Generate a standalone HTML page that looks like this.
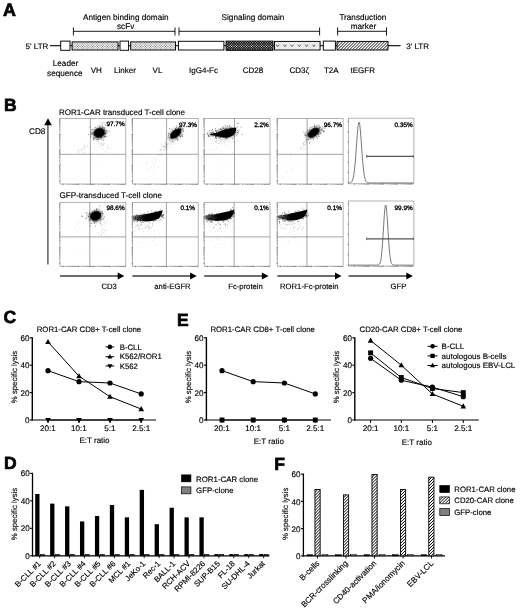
<!DOCTYPE html>
<html><head><meta charset="utf-8"><title>Figure</title>
<style>html,body{margin:0;padding:0;background:#fff}body{width:520px;height:612px;overflow:hidden}svg{display:block}</style>
</head><body>
<svg width="520" height="612" viewBox="0 0 520 612" font-family="'Liberation Sans', Arial, Helvetica, sans-serif" fill="#000">
<style>text{stroke:#000;stroke-width:0.15px;paint-order:stroke;text-rendering:geometricPrecision}</style>
<defs>
<linearGradient id="smg" x1="0" y1="0" x2="1" y2="0"><stop offset="0" stop-color="#000" stop-opacity="0.45"/><stop offset="0.3" stop-color="#000" stop-opacity="0.8"/><stop offset="0.45" stop-color="#000" stop-opacity="1"/><stop offset="1" stop-color="#000" stop-opacity="1"/></linearGradient>
<filter id="blur1" x="-30%" y="-30%" width="160%" height="160%"><feGaussianBlur stdDeviation="0.7"/></filter>
<filter id="blur2" x="-40%" y="-40%" width="180%" height="180%"><feGaussianBlur stdDeviation="1.4"/></filter>
</defs>
<rect width="520" height="612" fill="#fff"/>
<text x="3.0" y="15.7" font-size="17.9" font-weight="bold" style="stroke-width:0.7px">A</text>
<text x="4.1" y="111.3" font-size="17.5" font-weight="bold" style="stroke-width:0.7px">B</text>
<text x="3.6" y="322.9" font-size="17.5" font-weight="bold" style="stroke-width:0.7px">C</text>
<text x="4.0" y="468.9" font-size="17.5" font-weight="bold" style="stroke-width:0.7px">D</text>
<text x="177.0" y="326.0" font-size="17.5" font-weight="bold" style="stroke-width:0.7px">E</text>
<text x="274.3" y="470.3" font-size="17.5" font-weight="bold" style="stroke-width:0.7px">F</text>
<line x1="50" y1="45.7" x2="61" y2="45.7" stroke="#000" stroke-width="1.1"/>
<line x1="61" y1="45.7" x2="389" y2="45.7" stroke="#000" stroke-width="1.0"/>
<line x1="388" y1="45.7" x2="400.6" y2="45.7" stroke="#000" stroke-width="1.1"/>
<rect x="60.7" y="41.1" width="9.299999999999997" height="9.199999999999996" fill="#fff" stroke="#000" stroke-width="0.95"/>
<clipPath id="c1"><rect x="72.1" y="41.9" width="45.900000000000006" height="8.100000000000001"/></clipPath>
<rect x="72.1" y="41.9" width="45.900000000000006" height="8.100000000000001" fill="#f8f8f8"/>
<path d="M72.50 41.50h0.01M75.00 41.50h0.01M77.50 41.50h0.01M80.00 41.50h0.01M82.50 41.50h0.01M85.00 41.50h0.01M87.50 41.50h0.01M90.00 41.50h0.01M92.50 41.50h0.01M95.00 41.50h0.01M97.50 41.50h0.01M100.00 41.50h0.01M102.50 41.50h0.01M105.00 41.50h0.01M107.50 41.50h0.01M110.00 41.50h0.01M112.50 41.50h0.01M115.00 41.50h0.01M117.50 41.50h0.01M73.75 42.75h0.01M76.25 42.75h0.01M78.75 42.75h0.01M81.25 42.75h0.01M83.75 42.75h0.01M86.25 42.75h0.01M88.75 42.75h0.01M91.25 42.75h0.01M93.75 42.75h0.01M96.25 42.75h0.01M98.75 42.75h0.01M101.25 42.75h0.01M103.75 42.75h0.01M106.25 42.75h0.01M108.75 42.75h0.01M111.25 42.75h0.01M113.75 42.75h0.01M116.25 42.75h0.01M72.50 44.00h0.01M75.00 44.00h0.01M77.50 44.00h0.01M80.00 44.00h0.01M82.50 44.00h0.01M85.00 44.00h0.01M87.50 44.00h0.01M90.00 44.00h0.01M92.50 44.00h0.01M95.00 44.00h0.01M97.50 44.00h0.01M100.00 44.00h0.01M102.50 44.00h0.01M105.00 44.00h0.01M107.50 44.00h0.01M110.00 44.00h0.01M112.50 44.00h0.01M115.00 44.00h0.01M117.50 44.00h0.01M73.75 45.25h0.01M76.25 45.25h0.01M78.75 45.25h0.01M81.25 45.25h0.01M83.75 45.25h0.01M86.25 45.25h0.01M88.75 45.25h0.01M91.25 45.25h0.01M93.75 45.25h0.01M96.25 45.25h0.01M98.75 45.25h0.01M101.25 45.25h0.01M103.75 45.25h0.01M106.25 45.25h0.01M108.75 45.25h0.01M111.25 45.25h0.01M113.75 45.25h0.01M116.25 45.25h0.01M72.50 46.50h0.01M75.00 46.50h0.01M77.50 46.50h0.01M80.00 46.50h0.01M82.50 46.50h0.01M85.00 46.50h0.01M87.50 46.50h0.01M90.00 46.50h0.01M92.50 46.50h0.01M95.00 46.50h0.01M97.50 46.50h0.01M100.00 46.50h0.01M102.50 46.50h0.01M105.00 46.50h0.01M107.50 46.50h0.01M110.00 46.50h0.01M112.50 46.50h0.01M115.00 46.50h0.01M117.50 46.50h0.01M73.75 47.75h0.01M76.25 47.75h0.01M78.75 47.75h0.01M81.25 47.75h0.01M83.75 47.75h0.01M86.25 47.75h0.01M88.75 47.75h0.01M91.25 47.75h0.01M93.75 47.75h0.01M96.25 47.75h0.01M98.75 47.75h0.01M101.25 47.75h0.01M103.75 47.75h0.01M106.25 47.75h0.01M108.75 47.75h0.01M111.25 47.75h0.01M113.75 47.75h0.01M116.25 47.75h0.01M72.50 49.00h0.01M75.00 49.00h0.01M77.50 49.00h0.01M80.00 49.00h0.01M82.50 49.00h0.01M85.00 49.00h0.01M87.50 49.00h0.01M90.00 49.00h0.01M92.50 49.00h0.01M95.00 49.00h0.01M97.50 49.00h0.01M100.00 49.00h0.01M102.50 49.00h0.01M105.00 49.00h0.01M107.50 49.00h0.01M110.00 49.00h0.01M112.50 49.00h0.01M115.00 49.00h0.01M117.50 49.00h0.01M73.75 50.25h0.01M76.25 50.25h0.01M78.75 50.25h0.01M81.25 50.25h0.01M83.75 50.25h0.01M86.25 50.25h0.01M88.75 50.25h0.01M91.25 50.25h0.01M93.75 50.25h0.01M96.25 50.25h0.01M98.75 50.25h0.01M101.25 50.25h0.01M103.75 50.25h0.01M106.25 50.25h0.01M108.75 50.25h0.01M111.25 50.25h0.01M113.75 50.25h0.01M116.25 50.25h0.01" stroke="#4a4a4a" stroke-width="0.92" stroke-linecap="round" fill="none" clip-path="url(#c1)"/>
<rect x="72.1" y="41.9" width="45.900000000000006" height="8.100000000000001" fill="none" stroke="#000" stroke-width="0.95"/>
<rect x="120" y="41.1" width="8.599999999999994" height="9.199999999999996" fill="#fff" stroke="#000" stroke-width="0.95"/>
<clipPath id="c2"><rect x="130.7" y="41.9" width="44.80000000000001" height="8.100000000000001"/></clipPath>
<rect x="130.7" y="41.9" width="44.80000000000001" height="8.100000000000001" fill="#f8f8f8"/>
<path d="M130.50 41.50h0.01M133.00 41.50h0.01M135.50 41.50h0.01M138.00 41.50h0.01M140.50 41.50h0.01M143.00 41.50h0.01M145.50 41.50h0.01M148.00 41.50h0.01M150.50 41.50h0.01M153.00 41.50h0.01M155.50 41.50h0.01M158.00 41.50h0.01M160.50 41.50h0.01M163.00 41.50h0.01M165.50 41.50h0.01M168.00 41.50h0.01M170.50 41.50h0.01M173.00 41.50h0.01M175.50 41.50h0.01M131.75 42.75h0.01M134.25 42.75h0.01M136.75 42.75h0.01M139.25 42.75h0.01M141.75 42.75h0.01M144.25 42.75h0.01M146.75 42.75h0.01M149.25 42.75h0.01M151.75 42.75h0.01M154.25 42.75h0.01M156.75 42.75h0.01M159.25 42.75h0.01M161.75 42.75h0.01M164.25 42.75h0.01M166.75 42.75h0.01M169.25 42.75h0.01M171.75 42.75h0.01M174.25 42.75h0.01M130.50 44.00h0.01M133.00 44.00h0.01M135.50 44.00h0.01M138.00 44.00h0.01M140.50 44.00h0.01M143.00 44.00h0.01M145.50 44.00h0.01M148.00 44.00h0.01M150.50 44.00h0.01M153.00 44.00h0.01M155.50 44.00h0.01M158.00 44.00h0.01M160.50 44.00h0.01M163.00 44.00h0.01M165.50 44.00h0.01M168.00 44.00h0.01M170.50 44.00h0.01M173.00 44.00h0.01M175.50 44.00h0.01M131.75 45.25h0.01M134.25 45.25h0.01M136.75 45.25h0.01M139.25 45.25h0.01M141.75 45.25h0.01M144.25 45.25h0.01M146.75 45.25h0.01M149.25 45.25h0.01M151.75 45.25h0.01M154.25 45.25h0.01M156.75 45.25h0.01M159.25 45.25h0.01M161.75 45.25h0.01M164.25 45.25h0.01M166.75 45.25h0.01M169.25 45.25h0.01M171.75 45.25h0.01M174.25 45.25h0.01M130.50 46.50h0.01M133.00 46.50h0.01M135.50 46.50h0.01M138.00 46.50h0.01M140.50 46.50h0.01M143.00 46.50h0.01M145.50 46.50h0.01M148.00 46.50h0.01M150.50 46.50h0.01M153.00 46.50h0.01M155.50 46.50h0.01M158.00 46.50h0.01M160.50 46.50h0.01M163.00 46.50h0.01M165.50 46.50h0.01M168.00 46.50h0.01M170.50 46.50h0.01M173.00 46.50h0.01M175.50 46.50h0.01M131.75 47.75h0.01M134.25 47.75h0.01M136.75 47.75h0.01M139.25 47.75h0.01M141.75 47.75h0.01M144.25 47.75h0.01M146.75 47.75h0.01M149.25 47.75h0.01M151.75 47.75h0.01M154.25 47.75h0.01M156.75 47.75h0.01M159.25 47.75h0.01M161.75 47.75h0.01M164.25 47.75h0.01M166.75 47.75h0.01M169.25 47.75h0.01M171.75 47.75h0.01M174.25 47.75h0.01M130.50 49.00h0.01M133.00 49.00h0.01M135.50 49.00h0.01M138.00 49.00h0.01M140.50 49.00h0.01M143.00 49.00h0.01M145.50 49.00h0.01M148.00 49.00h0.01M150.50 49.00h0.01M153.00 49.00h0.01M155.50 49.00h0.01M158.00 49.00h0.01M160.50 49.00h0.01M163.00 49.00h0.01M165.50 49.00h0.01M168.00 49.00h0.01M170.50 49.00h0.01M173.00 49.00h0.01M175.50 49.00h0.01M131.75 50.25h0.01M134.25 50.25h0.01M136.75 50.25h0.01M139.25 50.25h0.01M141.75 50.25h0.01M144.25 50.25h0.01M146.75 50.25h0.01M149.25 50.25h0.01M151.75 50.25h0.01M154.25 50.25h0.01M156.75 50.25h0.01M159.25 50.25h0.01M161.75 50.25h0.01M164.25 50.25h0.01M166.75 50.25h0.01M169.25 50.25h0.01M171.75 50.25h0.01M174.25 50.25h0.01" stroke="#4a4a4a" stroke-width="0.92" stroke-linecap="round" fill="none" clip-path="url(#c2)"/>
<rect x="130.7" y="41.9" width="44.80000000000001" height="8.100000000000001" fill="none" stroke="#000" stroke-width="0.95"/>
<rect x="178.4" y="41.3" width="45.5" height="8.700000000000003" fill="#fff" stroke="#000" stroke-width="0.95"/>
<clipPath id="c3"><rect x="226.1" y="41.1" width="46.900000000000006" height="9.199999999999996"/></clipPath>
<rect x="226.1" y="41.1" width="46.900000000000006" height="9.199999999999996" fill="#000"/>
<path d="M226.50 41.50h0.01M229.00 41.50h0.01M231.50 41.50h0.01M234.00 41.50h0.01M236.50 41.50h0.01M239.00 41.50h0.01M241.50 41.50h0.01M244.00 41.50h0.01M246.50 41.50h0.01M249.00 41.50h0.01M251.50 41.50h0.01M254.00 41.50h0.01M256.50 41.50h0.01M259.00 41.50h0.01M261.50 41.50h0.01M264.00 41.50h0.01M266.50 41.50h0.01M269.00 41.50h0.01M271.50 41.50h0.01M227.75 42.75h0.01M230.25 42.75h0.01M232.75 42.75h0.01M235.25 42.75h0.01M237.75 42.75h0.01M240.25 42.75h0.01M242.75 42.75h0.01M245.25 42.75h0.01M247.75 42.75h0.01M250.25 42.75h0.01M252.75 42.75h0.01M255.25 42.75h0.01M257.75 42.75h0.01M260.25 42.75h0.01M262.75 42.75h0.01M265.25 42.75h0.01M267.75 42.75h0.01M270.25 42.75h0.01M272.75 42.75h0.01M226.50 44.00h0.01M229.00 44.00h0.01M231.50 44.00h0.01M234.00 44.00h0.01M236.50 44.00h0.01M239.00 44.00h0.01M241.50 44.00h0.01M244.00 44.00h0.01M246.50 44.00h0.01M249.00 44.00h0.01M251.50 44.00h0.01M254.00 44.00h0.01M256.50 44.00h0.01M259.00 44.00h0.01M261.50 44.00h0.01M264.00 44.00h0.01M266.50 44.00h0.01M269.00 44.00h0.01M271.50 44.00h0.01M227.75 45.25h0.01M230.25 45.25h0.01M232.75 45.25h0.01M235.25 45.25h0.01M237.75 45.25h0.01M240.25 45.25h0.01M242.75 45.25h0.01M245.25 45.25h0.01M247.75 45.25h0.01M250.25 45.25h0.01M252.75 45.25h0.01M255.25 45.25h0.01M257.75 45.25h0.01M260.25 45.25h0.01M262.75 45.25h0.01M265.25 45.25h0.01M267.75 45.25h0.01M270.25 45.25h0.01M272.75 45.25h0.01M226.50 46.50h0.01M229.00 46.50h0.01M231.50 46.50h0.01M234.00 46.50h0.01M236.50 46.50h0.01M239.00 46.50h0.01M241.50 46.50h0.01M244.00 46.50h0.01M246.50 46.50h0.01M249.00 46.50h0.01M251.50 46.50h0.01M254.00 46.50h0.01M256.50 46.50h0.01M259.00 46.50h0.01M261.50 46.50h0.01M264.00 46.50h0.01M266.50 46.50h0.01M269.00 46.50h0.01M271.50 46.50h0.01M227.75 47.75h0.01M230.25 47.75h0.01M232.75 47.75h0.01M235.25 47.75h0.01M237.75 47.75h0.01M240.25 47.75h0.01M242.75 47.75h0.01M245.25 47.75h0.01M247.75 47.75h0.01M250.25 47.75h0.01M252.75 47.75h0.01M255.25 47.75h0.01M257.75 47.75h0.01M260.25 47.75h0.01M262.75 47.75h0.01M265.25 47.75h0.01M267.75 47.75h0.01M270.25 47.75h0.01M272.75 47.75h0.01M226.50 49.00h0.01M229.00 49.00h0.01M231.50 49.00h0.01M234.00 49.00h0.01M236.50 49.00h0.01M239.00 49.00h0.01M241.50 49.00h0.01M244.00 49.00h0.01M246.50 49.00h0.01M249.00 49.00h0.01M251.50 49.00h0.01M254.00 49.00h0.01M256.50 49.00h0.01M259.00 49.00h0.01M261.50 49.00h0.01M264.00 49.00h0.01M266.50 49.00h0.01M269.00 49.00h0.01M271.50 49.00h0.01M227.75 50.25h0.01M230.25 50.25h0.01M232.75 50.25h0.01M235.25 50.25h0.01M237.75 50.25h0.01M240.25 50.25h0.01M242.75 50.25h0.01M245.25 50.25h0.01M247.75 50.25h0.01M250.25 50.25h0.01M252.75 50.25h0.01M255.25 50.25h0.01M257.75 50.25h0.01M260.25 50.25h0.01M262.75 50.25h0.01M265.25 50.25h0.01M267.75 50.25h0.01M270.25 50.25h0.01M272.75 50.25h0.01" stroke="#fff" stroke-width="1.24" stroke-linecap="round" fill="none" clip-path="url(#c3)"/>
<rect x="226.1" y="41.1" width="46.900000000000006" height="9.199999999999996" fill="none" stroke="#000" stroke-width="0.95"/>
<clipPath id="c4"><rect x="274.5" y="41.4" width="45.60000000000002" height="8.600000000000001"/></clipPath>
<rect x="274.5" y="41.4" width="45.60000000000002" height="8.600000000000001" fill="#fbfbfb"/>
<path d="M274.50 41.50h0.01M277.00 41.50h0.01M279.50 41.50h0.01M282.00 41.50h0.01M284.50 41.50h0.01M287.00 41.50h0.01M289.50 41.50h0.01M292.00 41.50h0.01M294.50 41.50h0.01M297.00 41.50h0.01M299.50 41.50h0.01M302.00 41.50h0.01M304.50 41.50h0.01M307.00 41.50h0.01M309.50 41.50h0.01M312.00 41.50h0.01M314.50 41.50h0.01M317.00 41.50h0.01M319.50 41.50h0.01M275.75 42.75h0.01M278.25 42.75h0.01M280.75 42.75h0.01M283.25 42.75h0.01M285.75 42.75h0.01M288.25 42.75h0.01M290.75 42.75h0.01M293.25 42.75h0.01M295.75 42.75h0.01M298.25 42.75h0.01M300.75 42.75h0.01M303.25 42.75h0.01M305.75 42.75h0.01M308.25 42.75h0.01M310.75 42.75h0.01M313.25 42.75h0.01M315.75 42.75h0.01M318.25 42.75h0.01M274.50 44.00h0.01M277.00 44.00h0.01M279.50 44.00h0.01M282.00 44.00h0.01M284.50 44.00h0.01M287.00 44.00h0.01M289.50 44.00h0.01M292.00 44.00h0.01M294.50 44.00h0.01M297.00 44.00h0.01M299.50 44.00h0.01M302.00 44.00h0.01M304.50 44.00h0.01M307.00 44.00h0.01M309.50 44.00h0.01M312.00 44.00h0.01M314.50 44.00h0.01M317.00 44.00h0.01M319.50 44.00h0.01M275.75 45.25h0.01M278.25 45.25h0.01M280.75 45.25h0.01M283.25 45.25h0.01M285.75 45.25h0.01M288.25 45.25h0.01M290.75 45.25h0.01M293.25 45.25h0.01M295.75 45.25h0.01M298.25 45.25h0.01M300.75 45.25h0.01M303.25 45.25h0.01M305.75 45.25h0.01M308.25 45.25h0.01M310.75 45.25h0.01M313.25 45.25h0.01M315.75 45.25h0.01M318.25 45.25h0.01M274.50 46.50h0.01M277.00 46.50h0.01M279.50 46.50h0.01M282.00 46.50h0.01M284.50 46.50h0.01M287.00 46.50h0.01M289.50 46.50h0.01M292.00 46.50h0.01M294.50 46.50h0.01M297.00 46.50h0.01M299.50 46.50h0.01M302.00 46.50h0.01M304.50 46.50h0.01M307.00 46.50h0.01M309.50 46.50h0.01M312.00 46.50h0.01M314.50 46.50h0.01M317.00 46.50h0.01M319.50 46.50h0.01M275.75 47.75h0.01M278.25 47.75h0.01M280.75 47.75h0.01M283.25 47.75h0.01M285.75 47.75h0.01M288.25 47.75h0.01M290.75 47.75h0.01M293.25 47.75h0.01M295.75 47.75h0.01M298.25 47.75h0.01M300.75 47.75h0.01M303.25 47.75h0.01M305.75 47.75h0.01M308.25 47.75h0.01M310.75 47.75h0.01M313.25 47.75h0.01M315.75 47.75h0.01M318.25 47.75h0.01M274.50 49.00h0.01M277.00 49.00h0.01M279.50 49.00h0.01M282.00 49.00h0.01M284.50 49.00h0.01M287.00 49.00h0.01M289.50 49.00h0.01M292.00 49.00h0.01M294.50 49.00h0.01M297.00 49.00h0.01M299.50 49.00h0.01M302.00 49.00h0.01M304.50 49.00h0.01M307.00 49.00h0.01M309.50 49.00h0.01M312.00 49.00h0.01M314.50 49.00h0.01M317.00 49.00h0.01M319.50 49.00h0.01M275.75 50.25h0.01M278.25 50.25h0.01M280.75 50.25h0.01M283.25 50.25h0.01M285.75 50.25h0.01M288.25 50.25h0.01M290.75 50.25h0.01M293.25 50.25h0.01M295.75 50.25h0.01M298.25 50.25h0.01M300.75 50.25h0.01M303.25 50.25h0.01M305.75 50.25h0.01M308.25 50.25h0.01M310.75 50.25h0.01M313.25 50.25h0.01M315.75 50.25h0.01M318.25 50.25h0.01" stroke="#aaa" stroke-width="0.72" stroke-linecap="round" fill="none" clip-path="url(#c4)"/>
<rect x="274.5" y="41.4" width="45.60000000000002" height="8.600000000000001" fill="none" stroke="#000" stroke-width="0.95"/>
<rect x="323.3" y="41.1" width="12.099999999999966" height="9.0" fill="#fff" stroke="#000" stroke-width="0.95"/>
<clipPath id="c5"><rect x="337.0" y="41.4" width="51.0" height="8.600000000000001"/></clipPath>
<rect x="337.0" y="41.4" width="51.0" height="8.600000000000001" fill="#fff"/>
<path d="M325.40 50.00L334.00 41.40M328.40 50.00L337.00 41.40M331.40 50.00L340.00 41.40M334.40 50.00L343.00 41.40M337.40 50.00L346.00 41.40M340.40 50.00L349.00 41.40M343.40 50.00L352.00 41.40M346.40 50.00L355.00 41.40M349.40 50.00L358.00 41.40M352.40 50.00L361.00 41.40M355.40 50.00L364.00 41.40M358.40 50.00L367.00 41.40M361.40 50.00L370.00 41.40M364.40 50.00L373.00 41.40M367.40 50.00L376.00 41.40M370.40 50.00L379.00 41.40M373.40 50.00L382.00 41.40M376.40 50.00L385.00 41.40M379.40 50.00L388.00 41.40M382.40 50.00L391.00 41.40M385.40 50.00L394.00 41.40M388.40 50.00L397.00 41.40M391.40 50.00L400.00 41.40M394.40 50.00L403.00 41.40" stroke="#111" stroke-width="0.95" fill="none" clip-path="url(#c5)"/>
<rect x="337.0" y="41.4" width="51.0" height="8.600000000000001" fill="none" stroke="#000" stroke-width="0.95"/>
<path d="M276.10 44.6 l1.5 2.0 l1.5 -2.0M283.35 44.6 l1.5 2.0 l1.5 -2.0M290.60 44.6 l1.5 2.0 l1.5 -2.0M297.85 44.6 l1.5 2.0 l1.5 -2.0M305.10 44.6 l1.5 2.0 l1.5 -2.0M312.35 44.6 l1.5 2.0 l1.5 -2.0" fill="none" stroke="#333" stroke-width="0.75"/>
<text x="25.6" y="48.5" font-size="8.0">5' LTR</text>
<text x="406.2" y="48.5" font-size="8.0">3' LTR</text>
<line x1="73.4" y1="31.3" x2="175" y2="31.3" stroke="#000" stroke-width="0.9"/>
<line x1="73.4" y1="27.400000000000002" x2="73.4" y2="35.5" stroke="#000" stroke-width="0.9"/>
<line x1="175" y1="27.400000000000002" x2="175" y2="35.5" stroke="#000" stroke-width="0.9"/>
<line x1="179" y1="31.3" x2="319.6" y2="31.3" stroke="#000" stroke-width="0.9"/>
<line x1="179" y1="27.400000000000002" x2="179" y2="35.5" stroke="#000" stroke-width="0.9"/>
<line x1="319.6" y1="27.400000000000002" x2="319.6" y2="35.5" stroke="#000" stroke-width="0.9"/>
<line x1="337.6" y1="31.3" x2="386.5" y2="31.3" stroke="#000" stroke-width="0.9"/>
<line x1="337.6" y1="27.400000000000002" x2="337.6" y2="35.5" stroke="#000" stroke-width="0.9"/>
<line x1="386.5" y1="27.400000000000002" x2="386.5" y2="35.5" stroke="#000" stroke-width="0.9"/>
<text x="125.8" y="20" font-size="8.2" text-anchor="middle">Antigen binding domain</text>
<text x="125.6" y="28.8" font-size="8.2" text-anchor="middle">scFv</text>
<text x="253" y="20" font-size="8.2" text-anchor="middle">Signaling domain</text>
<text x="362.9" y="20" font-size="8.2" text-anchor="middle">Transduction</text>
<text x="363.5" y="29" font-size="8.2" text-anchor="middle">marker</text>
<text x="65.5" y="65.5" font-size="8.2" text-anchor="middle">Leader</text>
<text x="64.8" y="75.5" font-size="8.2" text-anchor="middle">sequence</text>
<text x="96.2" y="72.6" font-size="8.0" text-anchor="middle">VH</text>
<text x="125" y="72.6" font-size="8.0" text-anchor="middle">Linker</text>
<text x="157.5" y="72.6" font-size="8.0" text-anchor="middle">VL</text>
<text x="203.5" y="72.6" font-size="8.0" text-anchor="middle">IgG4-Fc</text>
<text x="253" y="72.6" font-size="8.0" text-anchor="middle">CD28</text>
<text x="299.3" y="72.6" font-size="8.0" text-anchor="middle">CD3ζ</text>
<text x="331.3" y="72.6" font-size="8.0" text-anchor="middle">T2A</text>
<text x="362.8" y="72.6" font-size="8.0" text-anchor="middle">tEGFR</text>
<text x="58.9" y="114.8" font-size="8.0">ROR1-CAR transduced T-cell clone</text>
<text x="59.5" y="198.0" font-size="8.12">GFP-transduced T-cell clone</text>
<text x="29" y="133.8" font-size="8.2">CD8</text>
<line x1="47.9" y1="124" x2="47.9" y2="264.6" stroke="#606060" stroke-width="1.5"/>
<path d="M48 118.3 L44.2 125.2 L51.8 125.2 Z"/>
<line x1="60" y1="276.1" x2="118.8" y2="276.1" stroke="#3c3c3c" stroke-width="1.5"/>
<path d="M124.3 276.1 L117.7 272.6 L117.7 279.6 Z"/>
<line x1="132.4" y1="276.1" x2="191.2" y2="276.1" stroke="#3c3c3c" stroke-width="1.5"/>
<path d="M196.7 276.1 L190.1 272.6 L190.1 279.6 Z"/>
<line x1="204.2" y1="276.1" x2="263.0" y2="276.1" stroke="#3c3c3c" stroke-width="1.5"/>
<path d="M268.5 276.1 L261.9 272.6 L261.9 279.6 Z"/>
<line x1="277.3" y1="276.1" x2="336.1" y2="276.1" stroke="#3c3c3c" stroke-width="1.5"/>
<path d="M341.6 276.1 L335.0 272.6 L335.0 279.6 Z"/>
<line x1="348.6" y1="276.1" x2="407.40000000000003" y2="276.1" stroke="#3c3c3c" stroke-width="1.5"/>
<path d="M412.90000000000003 276.1 L406.3 272.6 L406.3 279.6 Z"/>
<text x="109.1" y="289.2" font-size="7.7" text-anchor="middle">CD3</text>
<text x="172.5" y="289.2" font-size="7.7" text-anchor="middle">anti-EGFR</text>
<text x="245.5" y="289.2" font-size="7.7" text-anchor="middle">Fc-protein</text>
<text x="309.3" y="289.2" font-size="7.7" text-anchor="middle">ROR1-Fc-protein</text>
<text x="398.5" y="289.2" font-size="7.7" text-anchor="middle">GFP</text>
<rect x="60" y="118.5" width="65.8" height="65.5" fill="none" stroke="#959595" stroke-width="0.7"/>
<line x1="90.4" y1="118.5" x2="90.4" y2="184.0" stroke="#5a5a5a" stroke-width="0.55"/>
<line x1="60" y1="154.3" x2="125.8" y2="154.3" stroke="#5a5a5a" stroke-width="0.55"/>
<path d="M63.0 183.7v1.3M67.7 184.0v0.7M70.4 184.0v0.7M72.3 184.0v0.7M73.8 184.0v0.7M75.0 184.0v0.7M76.1 184.0v0.7M77.1 184.0v0.7M78.5 183.7v1.3M83.2 184.0v0.7M85.9 184.0v0.7M87.8 184.0v0.7M89.3 184.0v0.7M90.5 184.0v0.7M91.6 184.0v0.7M92.6 184.0v0.7M94.0 183.7v1.3M98.7 184.0v0.7M101.4 184.0v0.7M103.3 184.0v0.7M104.8 184.0v0.7M106.0 184.0v0.7M107.1 184.0v0.7M108.1 184.0v0.7M109.5 183.7v1.3M114.2 184.0v0.7M116.9 184.0v0.7M118.8 184.0v0.7M120.3 184.0v0.7M121.5 184.0v0.7M122.6 184.0v0.7M123.6 184.0v0.7M125.0 183.7v1.3M60.3 181.0h-1.3M60 176.3h-0.7M60 173.6h-0.7M60 171.7h-0.7M60 170.2h-0.7M60 169.0h-0.7M60 167.9h-0.7M60 166.9h-0.7M60.3 165.5h-1.3M60 160.8h-0.7M60 158.1h-0.7M60 156.2h-0.7M60 154.7h-0.7M60 153.5h-0.7M60 152.4h-0.7M60 151.4h-0.7M60.3 150.0h-1.3M60 145.3h-0.7M60 142.6h-0.7M60 140.7h-0.7M60 139.2h-0.7M60 138.0h-0.7M60 136.9h-0.7M60 135.9h-0.7M60.3 134.5h-1.3M60 129.8h-0.7M60 127.1h-0.7M60 125.2h-0.7M60 123.7h-0.7M60 122.5h-0.7M60 121.4h-0.7M60 120.4h-0.7M60.3 119.0h-1.3" stroke="#333" stroke-width="0.55" fill="none"/>
<g transform="rotate(-20 99.3 133.2)" filter="url(#blur2)" opacity="0.55"><ellipse cx="99.3" cy="133.2" rx="6.6" ry="5.6" fill="#000"/></g>
<g transform="rotate(-20 99.2 132.8)" filter="url(#blur1)" opacity="1"><ellipse cx="99.2" cy="132.8" rx="5.6" ry="4.6" fill="#000"/></g>
<path d="M98.7 135.0h0.7M98.0 132.2h0.7M95.4 133.4h0.7M103.9 133.1h0.7M103.4 132.6h0.7M100.9 133.1h0.7M93.7 137.7h0.7M101.6 134.0h0.7M91.0 129.3h0.7M95.3 132.5h0.7M100.3 132.5h0.7M100.5 130.3h0.7M100.8 133.9h0.7M98.4 139.4h0.7M102.5 136.2h0.7M96.1 131.3h0.7M97.8 133.1h0.7M101.9 133.1h0.7M96.5 130.4h0.7M98.4 137.6h0.7M96.4 134.8h0.7M99.3 127.7h0.7M100.7 137.2h0.7M91.2 134.3h0.7M98.0 130.5h0.7M101.0 132.2h0.7M94.4 137.4h0.7M102.7 135.3h0.7M105.1 132.5h0.7M98.4 128.6h0.7M100.9 130.3h0.7M96.2 129.4h0.7M95.0 132.4h0.7M102.1 124.9h0.7M93.9 135.5h0.7M105.3 133.2h0.7M89.4 127.1h0.7M99.8 130.2h0.7M95.9 137.5h0.7M103.6 132.2h0.7M100.6 134.1h0.7M105.9 133.1h0.7M101.7 134.2h0.7M94.5 139.0h0.7M103.4 133.6h0.7M91.0 133.3h0.7M100.6 126.1h0.7M99.5 136.5h0.7M95.8 139.8h0.7M101.2 131.9h0.7M101.1 134.7h0.7M100.8 136.6h0.7M96.3 132.4h0.7M103.2 131.9h0.7M96.8 137.1h0.7M104.4 129.8h0.7M93.8 134.2h0.7M98.3 132.2h0.7M103.5 128.0h0.7M102.7 127.4h0.7M96.8 136.0h0.7M104.4 134.5h0.7M100.7 133.1h0.7M100.4 134.7h0.7M98.8 134.1h0.7M101.4 132.3h0.7M102.7 133.9h0.7M107.2 131.7h0.7M97.2 132.3h0.7M100.1 136.0h0.7M98.3 134.7h0.7M103.6 122.5h0.7M95.2 135.1h0.7M101.0 133.3h0.7M98.2 135.6h0.7M99.8 131.0h0.7M108.8 131.3h0.7M97.0 133.3h0.7M98.3 133.1h0.7M88.3 134.6h0.7M101.9 128.0h0.7M99.9 136.2h0.7M104.0 136.8h0.7M92.3 133.9h0.7M98.5 135.4h0.7M100.7 123.0h0.7M101.9 127.0h0.7M100.3 127.3h0.7M101.1 136.7h0.7M98.8 133.8h0.7M102.4 132.5h0.7M100.4 138.1h0.7M102.9 130.8h0.7M108.5 126.0h0.7M102.4 131.1h0.7M100.4 135.1h0.7M100.7 134.8h0.7M91.8 129.9h0.7M100.6 129.1h0.7M93.8 129.4h0.7M104.8 133.9h0.7M103.9 128.2h0.7M98.1 129.3h0.7M103.7 137.3h0.7M97.4 139.1h0.7M102.8 131.3h0.7M93.1 139.9h0.7M98.2 131.2h0.7M101.1 133.9h0.7M103.9 127.9h0.7M105.0 136.5h0.7M104.6 130.7h0.7M97.4 137.2h0.7M99.8 133.3h0.7M104.4 130.5h0.7M90.0 134.5h0.7M92.9 137.9h0.7M99.8 130.6h0.7M100.0 135.7h0.7M100.8 137.2h0.7M100.0 136.5h0.7M106.5 136.5h0.7M97.5 136.7h0.7M90.9 131.7h0.7M92.8 138.8h0.7M94.5 134.4h0.7M98.4 133.1h0.7M97.2 134.5h0.7M106.1 131.0h0.7M102.2 135.6h0.7M97.2 129.1h0.7M98.2 137.1h0.7M92.3 133.0h0.7M103.8 134.4h0.7M100.0 135.6h0.7M98.6 129.0h0.7M92.6 132.8h0.7M102.2 130.1h0.7M95.0 131.6h0.7M93.2 134.4h0.7M95.1 135.6h0.7M90.5 136.9h0.7M94.8 127.5h0.7M101.7 131.2h0.7M89.8 132.8h0.7M99.9 131.2h0.7M102.9 134.5h0.7M102.1 133.3h0.7M105.0 133.6h0.7M98.8 125.7h0.7M103.9 136.2h0.7M97.6 131.8h0.7M104.8 125.0h0.7M103.4 140.3h0.7M96.3 136.3h0.7M106.3 130.4h0.7M102.3 135.3h0.7M95.6 133.8h0.7M101.1 135.3h0.7M98.9 132.4h0.7" stroke="#000" stroke-width="0.7" fill="none" opacity="0.8"/>
<path d="M97.4 141.2h0.6M104.1 143.5h0.6M98.0 138.8h0.6M110.3 148.7h0.6M103.2 130.0h0.6M103.2 145.4h0.6M106.9 145.1h0.6M100.8 145.6h0.6M94.2 148.2h0.6M102.1 139.5h0.6M105.6 152.0h0.6M96.1 139.7h0.6M102.0 143.9h0.6M99.6 138.1h0.6M108.4 148.2h0.6M96.8 136.3h0.6M107.0 147.9h0.6M107.4 147.1h0.6M97.9 144.3h0.6M93.4 139.3h0.6M100.8 145.6h0.6M98.5 142.4h0.6M102.6 144.9h0.6M103.2 144.0h0.6M99.9 146.9h0.6M101.2 138.9h0.6M98.8 143.0h0.6M100.6 143.8h0.6M101.0 143.9h0.6M100.5 136.7h0.6M102.5 148.3h0.6M102.5 142.1h0.6M102.6 138.2h0.6M94.4 143.3h0.6" stroke="#000" stroke-width="0.6" fill="none" opacity="0.4"/>
<path d="M78.4 151.1h0.6M74.7 145.5h0.6M78.9 152.8h0.6M78.3 146.3h0.6M78.8 150.4h0.6M82.9 147.4h0.6M86.9 146.4h0.6M81.5 149.1h0.6M87.7 146.5h0.6M83.6 144.1h0.6M81.2 149.6h0.6M81.0 150.4h0.6M84.0 148.5h0.6M82.7 152.9h0.6M85.1 145.2h0.6M83.8 152.4h0.6M80.6 150.2h0.6M84.4 146.1h0.6M77.1 150.6h0.6M83.3 149.3h0.6M83.8 146.5h0.6M84.5 147.3h0.6" stroke="#000" stroke-width="0.6" fill="none" opacity="0.3"/>
<path d="M94.1 165.4h0.6M89.6 170.5h0.6M81.5 160.0h0.6M92.0 153.3h0.6M87.6 148.9h0.6M85.2 169.5h0.6M97.7 164.6h0.6M89.7 153.7h0.6" stroke="#000" stroke-width="0.6" fill="none" opacity="0.25"/>
<text x="124.6" y="125.9" font-size="6.4" text-anchor="end" style="stroke-width:0.3px">97.7%</text>
<rect x="132.4" y="118.5" width="65.8" height="65.5" fill="none" stroke="#959595" stroke-width="0.7"/>
<line x1="166.6" y1="118.5" x2="166.6" y2="184.0" stroke="#5a5a5a" stroke-width="0.55"/>
<line x1="132.4" y1="154.3" x2="198.2" y2="154.3" stroke="#5a5a5a" stroke-width="0.55"/>
<path d="M135.4 183.7v1.3M140.1 184.0v0.7M142.8 184.0v0.7M144.7 184.0v0.7M146.2 184.0v0.7M147.4 184.0v0.7M148.5 184.0v0.7M149.5 184.0v0.7M150.9 183.7v1.3M155.6 184.0v0.7M158.3 184.0v0.7M160.2 184.0v0.7M161.7 184.0v0.7M162.9 184.0v0.7M164.0 184.0v0.7M165.0 184.0v0.7M166.4 183.7v1.3M171.1 184.0v0.7M173.8 184.0v0.7M175.7 184.0v0.7M177.2 184.0v0.7M178.4 184.0v0.7M179.5 184.0v0.7M180.5 184.0v0.7M181.9 183.7v1.3M186.6 184.0v0.7M189.3 184.0v0.7M191.2 184.0v0.7M192.7 184.0v0.7M193.9 184.0v0.7M195.0 184.0v0.7M196.0 184.0v0.7M197.4 183.7v1.3M132.70000000000002 181.0h-1.3M132.4 176.3h-0.7M132.4 173.6h-0.7M132.4 171.7h-0.7M132.4 170.2h-0.7M132.4 169.0h-0.7M132.4 167.9h-0.7M132.4 166.9h-0.7M132.70000000000002 165.5h-1.3M132.4 160.8h-0.7M132.4 158.1h-0.7M132.4 156.2h-0.7M132.4 154.7h-0.7M132.4 153.5h-0.7M132.4 152.4h-0.7M132.4 151.4h-0.7M132.70000000000002 150.0h-1.3M132.4 145.3h-0.7M132.4 142.6h-0.7M132.4 140.7h-0.7M132.4 139.2h-0.7M132.4 138.0h-0.7M132.4 136.9h-0.7M132.4 135.9h-0.7M132.70000000000002 134.5h-1.3M132.4 129.8h-0.7M132.4 127.1h-0.7M132.4 125.2h-0.7M132.4 123.7h-0.7M132.4 122.5h-0.7M132.4 121.4h-0.7M132.4 120.4h-0.7M132.70000000000002 119.0h-1.3" stroke="#333" stroke-width="0.55" fill="none"/>
<g transform="rotate(-40 175.6 133.8)" filter="url(#blur2)" opacity="0.5"><ellipse cx="175.6" cy="133.8" rx="7.6" ry="4.4" fill="#000"/></g>
<g transform="rotate(-40 175.8 133.6)" filter="url(#blur1)" opacity="1"><ellipse cx="175.8" cy="133.6" rx="6.6" ry="3.5" fill="#000"/></g>
<path d="M182.9 129.0h0.7M178.2 128.7h0.7M172.3 130.9h0.7M180.0 132.9h0.7M169.2 139.3h0.7M175.2 128.5h0.7M167.8 137.2h0.7M171.4 133.0h0.7M176.3 134.0h0.7M179.1 132.9h0.7M182.8 131.1h0.7M170.5 136.7h0.7M170.4 134.9h0.7M175.5 133.9h0.7M175.0 129.2h0.7M171.5 137.3h0.7M174.6 133.6h0.7M174.4 132.4h0.7M178.8 132.1h0.7M174.4 132.7h0.7M170.9 129.2h0.7M172.5 136.6h0.7M170.9 138.5h0.7M174.1 130.7h0.7M174.4 133.8h0.7M178.4 133.3h0.7M174.3 132.2h0.7M175.2 133.9h0.7M178.8 131.9h0.7M171.2 133.3h0.7M173.3 133.4h0.7M171.8 136.8h0.7M174.3 135.3h0.7M177.0 131.3h0.7M183.3 126.0h0.7M179.8 130.5h0.7M175.9 125.9h0.7M173.6 136.3h0.7M181.6 136.0h0.7M178.9 134.9h0.7M179.9 133.0h0.7M177.3 131.8h0.7M175.9 130.1h0.7M178.3 128.2h0.7M180.0 136.7h0.7M175.1 134.3h0.7M179.9 130.1h0.7M173.4 136.5h0.7M178.9 133.1h0.7M175.9 139.1h0.7M181.6 128.6h0.7M176.1 132.0h0.7M179.6 128.0h0.7M177.4 130.7h0.7M174.5 137.0h0.7M180.4 129.5h0.7M174.7 137.1h0.7M176.1 134.3h0.7M182.9 131.0h0.7M177.6 139.3h0.7M177.1 135.0h0.7M173.5 135.5h0.7M172.6 142.1h0.7M178.6 127.3h0.7M168.0 135.2h0.7M179.1 129.2h0.7M175.1 133.2h0.7M173.7 132.0h0.7M173.6 130.9h0.7M176.0 134.4h0.7M177.1 131.8h0.7M172.9 136.6h0.7M176.6 137.9h0.7M178.3 131.1h0.7M173.1 133.8h0.7M172.0 135.8h0.7M177.6 133.6h0.7M181.1 135.7h0.7M173.4 135.8h0.7M182.5 121.8h0.7M174.3 135.5h0.7M177.0 133.9h0.7M175.6 135.0h0.7M177.2 134.8h0.7M167.9 137.7h0.7M174.2 131.7h0.7M173.2 137.9h0.7M174.6 136.7h0.7M178.9 131.9h0.7M177.4 131.9h0.7M170.9 137.8h0.7M176.5 131.3h0.7M176.6 135.3h0.7M173.8 137.4h0.7M181.4 126.9h0.7M176.1 132.9h0.7M181.6 129.5h0.7M177.8 129.6h0.7M175.7 133.6h0.7M171.9 141.6h0.7M176.1 127.7h0.7M178.2 131.1h0.7M177.9 132.9h0.7M170.3 137.8h0.7M180.1 128.0h0.7M170.1 134.2h0.7M172.1 137.9h0.7M182.3 129.2h0.7M180.2 136.9h0.7M172.9 134.0h0.7M178.5 133.0h0.7M170.4 134.6h0.7M177.2 133.2h0.7M171.0 137.2h0.7M174.7 136.1h0.7M175.3 133.8h0.7M176.2 136.6h0.7M180.0 128.7h0.7M177.5 129.7h0.7M177.2 134.7h0.7M180.4 128.3h0.7M175.9 134.2h0.7M170.6 138.2h0.7M174.1 136.3h0.7M168.8 133.5h0.7M176.3 134.0h0.7M175.3 136.9h0.7M173.9 133.3h0.7M175.0 129.3h0.7M173.4 135.6h0.7M178.5 130.7h0.7M175.8 131.5h0.7M179.5 135.7h0.7M177.2 140.0h0.7M173.6 135.6h0.7M178.0 134.9h0.7M168.2 133.6h0.7M179.2 133.2h0.7M182.1 136.5h0.7M176.9 133.4h0.7M179.6 131.4h0.7M179.6 126.3h0.7M169.1 128.5h0.7M178.0 130.5h0.7M182.4 134.7h0.7M175.4 133.2h0.7M172.7 133.6h0.7M174.6 136.7h0.7M176.0 133.6h0.7M176.6 135.8h0.7" stroke="#000" stroke-width="0.7" fill="none" opacity="0.8"/>
<path d="M166.5 144.8h0.6M167.2 144.1h0.6M161.4 153.8h0.6M165.2 143.7h0.6M169.7 143.1h0.6M159.8 155.8h0.6M167.2 146.9h0.6M165.2 146.0h0.6M159.0 154.8h0.6M164.2 146.5h0.6M166.1 145.7h0.6M167.0 143.7h0.6M161.4 144.0h0.6M163.6 149.7h0.6M169.9 141.0h0.6M166.1 149.8h0.6M164.1 149.4h0.6M171.9 140.2h0.6M168.9 140.9h0.6M165.3 146.0h0.6M166.5 148.2h0.6M174.1 136.3h0.6M162.7 150.1h0.6M160.5 152.0h0.6M166.6 144.3h0.6M164.7 142.6h0.6M165.7 141.6h0.6M160.7 149.0h0.6M163.9 149.9h0.6M164.3 146.1h0.6M169.0 147.1h0.6M165.0 147.5h0.6M170.3 142.3h0.6M162.3 155.9h0.6M171.5 135.1h0.6M164.9 147.8h0.6M169.7 144.0h0.6M161.9 146.6h0.6M166.4 148.1h0.6M158.3 150.0h0.6M161.8 144.3h0.6M162.8 147.4h0.6M165.5 144.1h0.6M160.1 150.0h0.6M163.4 146.2h0.6M165.6 148.0h0.6M172.0 144.6h0.6M160.5 149.6h0.6M156.2 159.9h0.6M161.3 149.9h0.6M164.9 142.9h0.6M166.5 145.1h0.6M156.9 154.9h0.6M167.2 139.4h0.6M168.3 144.0h0.6" stroke="#000" stroke-width="0.6" fill="none" opacity="0.4"/>
<path d="M154.0 163.9h0.6M156.9 157.9h0.6M153.9 158.9h0.6M151.9 157.8h0.6M154.3 171.6h0.6M152.1 161.6h0.6M141.2 165.3h0.6M153.8 167.1h0.6M153.9 164.5h0.6M153.6 169.7h0.6M146.2 163.3h0.6M155.3 160.8h0.6M146.8 162.7h0.6M150.3 167.6h0.6M148.6 157.6h0.6M153.0 163.1h0.6M146.4 171.1h0.6M147.4 163.7h0.6M158.3 166.3h0.6M147.3 168.5h0.6" stroke="#000" stroke-width="0.6" fill="none" opacity="0.22"/>
<text x="197.0" y="126.8" font-size="6.4" text-anchor="end" style="stroke-width:0.3px">97.3%</text>
<rect x="204.2" y="118.5" width="65.8" height="65.5" fill="none" stroke="#959595" stroke-width="0.7"/>
<line x1="234.5" y1="118.5" x2="234.5" y2="184.0" stroke="#5a5a5a" stroke-width="0.55"/>
<line x1="204.2" y1="154.3" x2="270.0" y2="154.3" stroke="#5a5a5a" stroke-width="0.55"/>
<path d="M207.2 183.7v1.3M211.9 184.0v0.7M214.6 184.0v0.7M216.5 184.0v0.7M218.0 184.0v0.7M219.2 184.0v0.7M220.3 184.0v0.7M221.3 184.0v0.7M222.7 183.7v1.3M227.4 184.0v0.7M230.1 184.0v0.7M232.0 184.0v0.7M233.5 184.0v0.7M234.7 184.0v0.7M235.8 184.0v0.7M236.8 184.0v0.7M238.2 183.7v1.3M242.9 184.0v0.7M245.6 184.0v0.7M247.5 184.0v0.7M249.0 184.0v0.7M250.2 184.0v0.7M251.3 184.0v0.7M252.3 184.0v0.7M253.7 183.7v1.3M258.4 184.0v0.7M261.1 184.0v0.7M263.0 184.0v0.7M264.5 184.0v0.7M265.7 184.0v0.7M266.8 184.0v0.7M267.8 184.0v0.7M269.2 183.7v1.3M204.5 181.0h-1.3M204.2 176.3h-0.7M204.2 173.6h-0.7M204.2 171.7h-0.7M204.2 170.2h-0.7M204.2 169.0h-0.7M204.2 167.9h-0.7M204.2 166.9h-0.7M204.5 165.5h-1.3M204.2 160.8h-0.7M204.2 158.1h-0.7M204.2 156.2h-0.7M204.2 154.7h-0.7M204.2 153.5h-0.7M204.2 152.4h-0.7M204.2 151.4h-0.7M204.5 150.0h-1.3M204.2 145.3h-0.7M204.2 142.6h-0.7M204.2 140.7h-0.7M204.2 139.2h-0.7M204.2 138.0h-0.7M204.2 136.9h-0.7M204.2 135.9h-0.7M204.5 134.5h-1.3M204.2 129.8h-0.7M204.2 127.1h-0.7M204.2 125.2h-0.7M204.2 123.7h-0.7M204.2 122.5h-0.7M204.2 121.4h-0.7M204.2 120.4h-0.7M204.5 119.0h-1.3" stroke="#333" stroke-width="0.55" fill="none"/>
<path d="M236.2 127.6 C232 127.8 225 129.3 219.5 131.8 C215.5 133.3 211 133.6 208.5 134 C212 135 216 136 220.5 137 C226 138.4 231 137.6 234 134.6 C235.8 132.5 236.6 130 236.2 127.6 Z" fill="#000" filter="url(#blur1)"/>
<g transform="rotate(-12 227.5 132.6)" filter="url(#blur2)" opacity="0.45"><ellipse cx="227.5" cy="132.6" rx="8.5" ry="5.2" fill="#000"/></g>
<path d="M220.6 139.8h0.7M222.5 136.5h0.7M221.3 135.7h0.7M237.8 123.5h0.7M222.5 134.6h0.7M224.1 131.2h0.7M238.8 130.2h0.7M215.0 137.1h0.7M214.6 138.0h0.7M221.4 133.9h0.7M233.1 131.5h0.7M215.3 130.3h0.7M232.9 133.2h0.7M220.2 136.0h0.7M228.5 133.8h0.7M210.5 134.9h0.7M231.1 133.5h0.7M229.3 125.4h0.7M226.3 133.8h0.7M240.8 127.1h0.7M222.9 133.3h0.7M230.4 130.5h0.7M231.9 129.3h0.7M226.4 131.1h0.7M225.7 130.8h0.7M215.4 137.6h0.7M226.6 131.0h0.7M226.8 135.1h0.7M218.7 133.8h0.7M228.7 133.4h0.7M221.8 127.9h0.7M233.1 132.0h0.7M224.9 132.1h0.7M226.5 131.4h0.7M218.1 132.2h0.7M220.9 132.0h0.7M217.9 135.9h0.7M217.0 136.2h0.7M218.7 135.0h0.7M233.9 131.5h0.7M220.4 133.9h0.7M225.0 128.2h0.7M221.2 134.0h0.7M222.1 133.6h0.7M230.1 133.8h0.7M231.1 133.1h0.7M223.2 133.1h0.7M223.1 132.4h0.7M223.0 128.6h0.7M222.9 133.2h0.7M218.8 134.0h0.7M228.2 131.7h0.7M236.9 123.5h0.7M222.7 128.4h0.7M232.6 138.3h0.7M209.1 136.4h0.7M228.2 131.4h0.7M227.4 126.4h0.7M230.6 132.6h0.7M224.8 131.3h0.7M228.8 130.7h0.7M226.2 131.2h0.7M210.7 135.6h0.7M226.7 134.5h0.7M219.4 133.8h0.7M229.0 132.4h0.7M233.9 136.3h0.7M218.2 129.1h0.7M231.2 135.6h0.7M231.3 133.7h0.7M220.7 131.8h0.7M230.2 129.3h0.7M212.9 132.6h0.7M241.9 134.5h0.7M220.3 131.8h0.7M226.1 130.6h0.7M233.3 130.9h0.7M218.8 137.5h0.7M221.4 134.1h0.7M224.8 132.0h0.7M226.7 130.6h0.7M212.1 129.6h0.7M216.5 132.5h0.7M224.9 133.0h0.7M228.6 132.4h0.7M219.6 132.0h0.7M211.4 135.1h0.7M228.4 133.5h0.7M224.1 132.5h0.7M231.0 131.6h0.7M230.0 133.3h0.7M227.0 135.9h0.7M221.2 132.6h0.7M219.4 131.8h0.7M235.8 135.3h0.7M225.4 134.2h0.7M232.9 133.3h0.7M232.0 128.0h0.7M221.2 134.8h0.7M234.2 131.2h0.7M219.3 133.0h0.7M220.3 131.5h0.7M234.2 129.3h0.7M226.2 138.3h0.7M232.7 132.1h0.7M221.3 134.6h0.7M235.7 132.3h0.7M233.1 131.4h0.7M228.2 131.6h0.7M228.4 135.6h0.7M215.9 134.5h0.7M226.2 131.0h0.7M223.4 135.2h0.7M238.1 131.8h0.7M226.3 128.4h0.7M237.3 130.5h0.7M224.2 130.0h0.7M224.1 130.1h0.7M225.7 133.9h0.7M225.3 133.5h0.7M220.3 137.5h0.7M219.9 129.0h0.7M223.4 131.1h0.7M218.4 133.2h0.7M226.2 129.4h0.7M224.9 136.6h0.7M229.3 131.5h0.7M225.8 132.3h0.7M225.1 134.7h0.7M223.2 126.8h0.7M224.4 130.6h0.7M228.8 130.4h0.7M227.1 138.2h0.7M217.7 131.3h0.7M214.8 128.5h0.7M213.2 136.2h0.7M220.0 128.9h0.7M215.9 136.3h0.7M219.9 132.9h0.7M227.8 135.8h0.7M237.9 132.9h0.7M226.0 133.1h0.7M237.2 134.1h0.7M223.3 134.4h0.7M226.9 132.6h0.7M221.1 130.1h0.7M220.8 129.6h0.7M233.1 132.6h0.7M218.0 137.9h0.7M229.7 126.8h0.7M237.1 132.5h0.7M237.5 127.0h0.7M228.6 133.2h0.7M226.4 133.0h0.7M230.9 127.6h0.7M216.4 130.9h0.7M221.1 132.0h0.7M227.5 133.0h0.7M224.9 131.0h0.7M222.7 135.8h0.7M229.9 132.1h0.7M223.7 137.2h0.7M221.6 135.2h0.7M232.2 130.6h0.7M229.7 128.9h0.7M231.6 132.0h0.7M215.2 136.6h0.7M220.0 137.2h0.7M220.6 133.3h0.7M226.6 131.6h0.7M226.4 131.1h0.7M229.3 131.9h0.7M224.9 125.5h0.7M232.4 131.4h0.7M213.7 135.3h0.7M228.5 134.9h0.7M218.9 138.1h0.7M225.2 139.1h0.7M224.4 134.7h0.7M222.1 130.4h0.7M232.5 133.7h0.7M235.2 133.0h0.7M220.5 129.3h0.7M220.5 131.9h0.7M220.1 135.3h0.7M226.9 131.7h0.7M226.0 132.2h0.7M226.7 134.4h0.7M230.8 129.8h0.7M216.1 138.4h0.7M226.3 135.5h0.7M214.4 134.1h0.7M224.4 129.1h0.7M222.1 135.3h0.7M232.7 135.5h0.7M218.8 130.3h0.7M228.8 134.5h0.7M225.6 129.2h0.7M230.4 133.8h0.7M228.3 130.8h0.7" stroke="#000" stroke-width="0.7" fill="none" opacity="0.8"/>
<path d="M215.5 135.1h0.6M211.2 130.7h0.6M215.6 134.5h0.6M214.2 135.4h0.6M211.4 133.9h0.6M212.7 135.0h0.6M221.1 132.6h0.6M223.5 135.6h0.6M217.6 134.5h0.6M221.9 132.7h0.6M213.3 131.9h0.6M216.4 136.0h0.6M216.5 134.3h0.6M213.1 134.2h0.6M207.8 136.3h0.6M212.0 132.0h0.6M210.5 132.7h0.6M218.0 135.3h0.6M208.1 136.1h0.6M217.9 132.4h0.6M207.2 133.1h0.6M211.2 134.7h0.6M212.0 130.3h0.6M214.8 130.9h0.6M217.8 131.2h0.6M210.7 132.6h0.6M211.8 136.4h0.6M217.9 134.5h0.6M215.2 130.9h0.6M211.6 133.0h0.6M209.7 135.2h0.6M210.6 132.9h0.6M209.0 130.6h0.6M216.9 135.9h0.6M214.6 132.0h0.6M219.5 133.8h0.6M218.4 136.0h0.6M219.0 132.5h0.6M218.9 134.7h0.6M207.0 133.8h0.6M207.6 134.2h0.6M216.4 131.6h0.6M216.0 136.3h0.6M208.3 136.3h0.6M223.6 136.5h0.6M213.1 134.4h0.6M213.5 135.7h0.6M218.7 133.5h0.6M208.0 135.7h0.6M212.0 135.1h0.6M215.5 136.6h0.6M219.0 132.5h0.6M215.9 136.8h0.6M211.7 134.8h0.6M219.6 135.5h0.6M216.1 131.2h0.6M208.4 134.8h0.6M216.2 138.2h0.6M210.3 136.2h0.6M217.1 130.5h0.6M210.4 134.5h0.6M211.8 133.7h0.6M216.0 132.1h0.6M216.0 132.5h0.6M211.7 135.0h0.6M211.5 134.6h0.6M221.2 133.1h0.6M213.5 135.2h0.6M212.6 135.9h0.6M208.4 135.5h0.6M211.6 132.6h0.6M221.8 131.5h0.6M222.0 134.2h0.6M220.3 131.4h0.6M219.6 135.9h0.6M213.5 133.6h0.6M225.0 133.0h0.6M212.0 132.9h0.6M216.1 134.2h0.6M215.1 136.8h0.6M212.6 134.8h0.6M220.4 131.3h0.6M219.0 136.6h0.6M207.7 132.4h0.6M209.0 131.0h0.6M215.7 130.3h0.6M216.5 136.2h0.6M206.7 134.0h0.6" stroke="#000" stroke-width="0.6" fill="none" opacity="0.7"/>
<path d="M210.6 143.7h0.6M218.8 140.1h0.6M224.4 142.9h0.6M221.6 141.1h0.6M220.2 141.4h0.6M215.8 141.2h0.6M210.5 139.3h0.6M237.4 141.3h0.6M215.2 141.9h0.6M217.2 135.2h0.6M218.8 143.6h0.6M226.7 140.7h0.6M217.5 137.2h0.6M233.4 141.9h0.6M217.3 133.6h0.6M214.4 149.7h0.6M216.0 140.7h0.6M225.5 140.4h0.6M222.1 136.2h0.6M216.6 146.9h0.6M218.7 144.0h0.6M212.1 140.0h0.6M225.8 144.6h0.6M216.1 143.1h0.6M226.7 138.4h0.6M227.3 137.9h0.6M218.4 140.9h0.6M217.0 135.9h0.6M221.0 143.7h0.6M221.2 145.4h0.6M215.9 136.4h0.6M234.9 142.4h0.6M230.6 138.1h0.6M229.6 141.9h0.6M228.5 141.1h0.6M232.4 138.7h0.6M217.3 135.8h0.6M232.1 138.4h0.6M216.7 137.7h0.6M220.9 136.6h0.6M222.0 138.8h0.6M220.1 137.6h0.6M224.3 139.4h0.6M224.8 141.9h0.6" stroke="#000" stroke-width="0.6" fill="none" opacity="0.4"/>
<path d="M228.4 147.5h0.6M219.6 158.6h0.6M232.7 152.4h0.6M217.9 162.6h0.6M221.6 172.9h0.6M220.6 172.7h0.6M210.3 150.5h0.6M237.2 168.5h0.6M229.9 166.0h0.6M229.8 155.3h0.6" stroke="#000" stroke-width="0.6" fill="none" opacity="0.22"/>
<text x="268.8" y="126.8" font-size="6.4" text-anchor="end" style="stroke-width:0.3px">2.2%</text>
<rect x="277.3" y="118.5" width="65.8" height="65.5" fill="none" stroke="#959595" stroke-width="0.7"/>
<line x1="307.1" y1="118.5" x2="307.1" y2="184.0" stroke="#5a5a5a" stroke-width="0.55"/>
<line x1="277.3" y1="154.3" x2="343.1" y2="154.3" stroke="#5a5a5a" stroke-width="0.55"/>
<path d="M280.3 183.7v1.3M285.0 184.0v0.7M287.7 184.0v0.7M289.6 184.0v0.7M291.1 184.0v0.7M292.3 184.0v0.7M293.4 184.0v0.7M294.4 184.0v0.7M295.8 183.7v1.3M300.5 184.0v0.7M303.2 184.0v0.7M305.1 184.0v0.7M306.6 184.0v0.7M307.8 184.0v0.7M308.9 184.0v0.7M309.9 184.0v0.7M311.3 183.7v1.3M316.0 184.0v0.7M318.7 184.0v0.7M320.6 184.0v0.7M322.1 184.0v0.7M323.3 184.0v0.7M324.4 184.0v0.7M325.4 184.0v0.7M326.8 183.7v1.3M331.5 184.0v0.7M334.2 184.0v0.7M336.1 184.0v0.7M337.6 184.0v0.7M338.8 184.0v0.7M339.9 184.0v0.7M340.9 184.0v0.7M342.3 183.7v1.3M277.6 181.0h-1.3M277.3 176.3h-0.7M277.3 173.6h-0.7M277.3 171.7h-0.7M277.3 170.2h-0.7M277.3 169.0h-0.7M277.3 167.9h-0.7M277.3 166.9h-0.7M277.6 165.5h-1.3M277.3 160.8h-0.7M277.3 158.1h-0.7M277.3 156.2h-0.7M277.3 154.7h-0.7M277.3 153.5h-0.7M277.3 152.4h-0.7M277.3 151.4h-0.7M277.6 150.0h-1.3M277.3 145.3h-0.7M277.3 142.6h-0.7M277.3 140.7h-0.7M277.3 139.2h-0.7M277.3 138.0h-0.7M277.3 136.9h-0.7M277.3 135.9h-0.7M277.6 134.5h-1.3M277.3 129.8h-0.7M277.3 127.1h-0.7M277.3 125.2h-0.7M277.3 123.7h-0.7M277.3 122.5h-0.7M277.3 121.4h-0.7M277.3 120.4h-0.7M277.6 119.0h-1.3" stroke="#333" stroke-width="0.55" fill="none"/>
<g transform="rotate(-35 313.6 132.7)" filter="url(#blur2)" opacity="0.5"><ellipse cx="313.6" cy="132.7" rx="7.8" ry="4.8" fill="#000"/></g>
<g transform="rotate(-35 313.6 132.6)" filter="url(#blur1)" opacity="1"><ellipse cx="313.6" cy="132.6" rx="6.6" ry="3.7" fill="#000"/></g>
<path d="M316.4 129.1h0.7M317.5 130.3h0.7M304.2 135.1h0.7M317.7 129.5h0.7M312.5 134.2h0.7M311.2 132.6h0.7M314.2 132.7h0.7M319.4 128.9h0.7M323.4 131.7h0.7M321.7 130.5h0.7M314.3 132.7h0.7M312.0 131.5h0.7M312.4 131.5h0.7M320.6 129.6h0.7M309.1 129.7h0.7M312.8 131.9h0.7M307.8 133.1h0.7M305.9 139.8h0.7M317.1 138.4h0.7M313.3 132.5h0.7M319.3 129.2h0.7M313.7 131.5h0.7M313.5 137.5h0.7M319.9 133.8h0.7M312.3 133.7h0.7M311.7 137.1h0.7M309.1 137.5h0.7M319.8 132.9h0.7M311.6 137.5h0.7M309.8 132.9h0.7M310.3 138.6h0.7M319.0 127.1h0.7M310.2 133.9h0.7M324.6 128.3h0.7M308.9 130.3h0.7M312.8 137.0h0.7M320.3 127.3h0.7M310.2 133.4h0.7M307.8 139.5h0.7M311.0 137.8h0.7M305.3 134.4h0.7M313.6 130.3h0.7M316.6 130.7h0.7M310.1 137.1h0.7M314.0 126.4h0.7M321.3 129.0h0.7M313.8 126.7h0.7M310.4 133.8h0.7M315.5 126.8h0.7M307.3 130.6h0.7M313.2 134.1h0.7M306.3 135.8h0.7M317.9 134.8h0.7M315.7 130.3h0.7M307.8 133.8h0.7M311.3 134.7h0.7M315.9 136.4h0.7M313.1 129.7h0.7M320.9 130.7h0.7M312.9 130.9h0.7M305.0 135.4h0.7M315.9 128.6h0.7M308.9 136.5h0.7M315.4 133.4h0.7M318.2 134.0h0.7M311.9 137.0h0.7M310.9 136.8h0.7M314.6 132.8h0.7M317.2 130.1h0.7M319.1 131.7h0.7M313.3 131.1h0.7M310.0 133.5h0.7M312.8 133.2h0.7M325.9 126.3h0.7M315.3 128.9h0.7M310.4 133.9h0.7M312.8 130.0h0.7M318.9 127.3h0.7M314.3 124.9h0.7M314.0 133.3h0.7M315.2 133.5h0.7M314.9 132.3h0.7M305.4 136.1h0.7M305.6 140.1h0.7M314.5 131.5h0.7M309.6 133.6h0.7M323.1 131.6h0.7M315.3 135.6h0.7M304.7 132.7h0.7M310.5 132.1h0.7M311.8 134.6h0.7M324.1 123.4h0.7M314.2 133.2h0.7M314.8 134.8h0.7M318.5 125.4h0.7M313.8 131.7h0.7M312.7 128.5h0.7M303.5 132.3h0.7M315.9 131.7h0.7M310.4 127.4h0.7M311.1 132.0h0.7M306.9 134.4h0.7M317.0 132.1h0.7M314.3 133.9h0.7M311.4 134.4h0.7M314.6 133.8h0.7M313.1 132.6h0.7M312.1 131.7h0.7M322.8 128.0h0.7M318.6 136.5h0.7M316.6 125.7h0.7M317.5 132.7h0.7M322.7 130.6h0.7M314.8 128.2h0.7M310.7 135.5h0.7M314.0 129.2h0.7M311.6 132.8h0.7M314.3 133.3h0.7M310.7 130.8h0.7M320.7 132.9h0.7M314.7 135.2h0.7M316.3 133.0h0.7M314.3 129.8h0.7M317.3 133.4h0.7M313.1 139.2h0.7M324.2 131.2h0.7M322.2 129.1h0.7M311.4 132.3h0.7M310.7 135.1h0.7M314.5 134.2h0.7M309.3 142.9h0.7M322.2 126.7h0.7M316.9 132.0h0.7M314.3 131.5h0.7M311.9 131.2h0.7M314.2 132.2h0.7M313.6 130.0h0.7M313.8 132.7h0.7M314.3 128.8h0.7M316.6 133.7h0.7M315.3 130.4h0.7M311.4 133.5h0.7M318.6 134.1h0.7M312.1 131.7h0.7M315.3 132.2h0.7M309.1 133.5h0.7M314.2 134.4h0.7M307.6 133.6h0.7M313.7 128.8h0.7M314.5 133.2h0.7" stroke="#000" stroke-width="0.7" fill="none" opacity="0.8"/>
<path d="M302.5 142.8h0.6M303.8 143.7h0.6M304.3 141.5h0.6M305.7 137.5h0.6M303.9 144.6h0.6M306.9 139.6h0.6M305.5 141.2h0.6M309.8 144.0h0.6M303.8 146.1h0.6M302.8 148.8h0.6M308.8 139.7h0.6M301.2 148.7h0.6M310.2 141.5h0.6M304.4 138.3h0.6M304.4 148.6h0.6M302.0 150.1h0.6M312.3 138.4h0.6M307.9 139.5h0.6M300.1 148.2h0.6M303.7 144.6h0.6M306.7 141.3h0.6M305.8 144.0h0.6M307.4 146.8h0.6M306.2 142.5h0.6M302.8 143.8h0.6M309.4 139.4h0.6M299.9 147.0h0.6M303.3 143.8h0.6M306.4 138.3h0.6M306.4 142.5h0.6M300.5 148.3h0.6M305.0 145.1h0.6M303.4 146.1h0.6M297.0 148.3h0.6M308.9 142.8h0.6M303.5 143.1h0.6" stroke="#000" stroke-width="0.6" fill="none" opacity="0.35"/>
<path d="M291.5 154.8h0.6M286.9 171.4h0.6M291.4 160.0h0.6M282.4 178.3h0.6M288.9 162.4h0.6M292.4 168.8h0.6M289.6 156.2h0.6M290.4 157.1h0.6M297.5 162.8h0.6M301.6 155.1h0.6M292.4 169.4h0.6M284.7 166.2h0.6M287.7 167.2h0.6M284.8 171.9h0.6M293.3 164.1h0.6" stroke="#000" stroke-width="0.6" fill="none" opacity="0.2"/>
<text x="341.90000000000003" y="126.8" font-size="6.4" text-anchor="end" style="stroke-width:0.3px">96.7%</text>
<rect x="348.6" y="118.2" width="65.3" height="65.60000000000001" fill="none" stroke="#959595" stroke-width="0.7"/>
<path d="M349.4 182.8 L349.8 182.8 L350.2 182.7 L350.6 182.6 L351.0 182.4 L351.4 182.1 L351.8 181.6 L352.2 180.9 L352.6 180.0 L353.0 178.7 L353.4 177.0 L353.8 174.8 L354.2 172.0 L354.6 168.6 L355.0 164.6 L355.4 160.0 L355.8 154.8 L356.2 149.4 L356.6 143.7 L357.0 138.2 L357.4 133.1 L357.8 128.7 L358.2 125.3 L358.6 123.1 L359.0 122.2 L359.4 122.8 L359.8 124.7 L360.1 127.9 L360.5 132.1 L360.9 137.0 L361.3 142.5 L361.7 148.1 L362.1 153.6 L362.5 158.9 L362.9 163.6 L363.3 167.8 L363.7 171.3 L364.1 174.2 L364.5 176.6 L364.9 178.4 L365.3 179.8 L365.7 180.8 L366.1 181.5 L366.5 182.0 L366.9 182.3 L367.3 182.5 L367.7 182.7 L368.1 182.8 L368.5 182.8 L368.9 182.9 L369.3 182.9 L369.7 182.9 L370.1 182.9 L370.5 182.9 L370.9 182.9 L371.3 182.9 L371.7 182.9 L372.1 182.9 L372.5 182.9 L372.9 182.9 L373.3 182.9 L373.7 182.9 L374.1 182.9 L374.5 182.9 L374.9 182.9 L375.3 182.9 L375.7 182.9 L376.1 182.9 L376.5 182.9 L376.9 182.9 L377.3 182.9 L377.7 182.9 L378.1 182.9 L378.5 182.9 L378.9 182.9 L379.3 182.9 L379.7 182.9 L380.1 182.9 L380.5 182.9 L380.9 182.9 L381.3 182.9 L381.6 182.9 L382.0 182.9 L382.4 182.9 L382.8 182.9 L383.2 182.9 L383.6 182.9 L384.0 182.9 L384.4 182.9 L384.8 182.9 L385.2 182.9 L385.6 182.9 L386.0 182.9 L386.4 182.9 L386.8 182.9 L387.2 182.9 L387.6 182.9 L388.0 182.9 L388.4 182.9 L388.8 182.9 L389.2 182.9 L389.6 182.9 L390.0 182.9 L390.4 182.9 L390.8 182.9 L391.2 182.9 L391.6 182.9 L392.0 182.9 L392.4 182.9 L392.8 182.9 L393.2 182.9 L393.6 182.9 L394.0 182.9 L394.4 182.9 L394.8 182.9 L395.2 182.9 L395.6 182.9 L396.0 182.9 L396.4 182.9 L396.8 182.9 L397.2 182.9 L397.6 182.9 L398.0 182.9 L398.4 182.9 L398.8 182.9 L399.2 182.9 L399.6 182.9 L400.0 182.9 L400.4 182.9 L400.8 182.9 L401.2 182.9 L401.6 182.9 L402.0 182.9 L402.4 182.9 L402.7 182.9 L403.1 182.9 L403.5 182.9 L403.9 182.9 L404.3 182.9 L404.7 182.9 L405.1 182.9 L405.5 182.9 L405.9 182.9 L406.3 182.9 L406.7 182.9 L407.1 182.9 L407.5 182.9 L407.9 182.9 L408.3 182.9 L408.7 182.9 L409.1 182.9 L409.5 182.9 L409.9 182.9 L410.3 182.9 L410.7 182.9 L411.1 182.9 L411.5 182.9 L411.9 182.9 L412.3 182.9 L412.7 182.9 L413.1 182.9" fill="none" stroke="#4a4a4a" stroke-width="0.75"/>
<line x1="366.6" y1="156.4" x2="413.6" y2="156.4" stroke="#555" stroke-width="1.3"/>
<line x1="366.6" y1="155.1" x2="366.6" y2="157.70000000000002" stroke="#555" stroke-width="0.8"/>
<line x1="413.40000000000003" y1="155.1" x2="413.40000000000003" y2="157.70000000000002" stroke="#555" stroke-width="0.8"/>
<path d="M354.6 183.5v1.3M358.9 183.8v0.7M361.4 183.8v0.7M363.2 183.8v0.7M364.6 183.8v0.7M365.7 183.8v0.7M366.7 183.8v0.7M367.6 183.8v0.7M368.9 183.5v1.3M373.2 183.8v0.7M375.7 183.8v0.7M377.5 183.8v0.7M378.9 183.8v0.7M380.0 183.8v0.7M381.0 183.8v0.7M381.9 183.8v0.7M383.2 183.5v1.3M387.5 183.8v0.7M390.0 183.8v0.7M391.8 183.8v0.7M393.2 183.8v0.7M394.3 183.8v0.7M395.3 183.8v0.7M396.2 183.8v0.7M397.5 183.5v1.3M401.8 183.8v0.7M404.3 183.8v0.7M406.1 183.8v0.7M407.5 183.8v0.7M408.6 183.8v0.7M409.6 183.8v0.7M410.5 183.8v0.7M411.8 183.5v1.3M348.90000000000003 182.8h-1.2M348.90000000000003 172.6h-1.2M348.90000000000003 162.4h-1.2M348.90000000000003 152.2h-1.2M348.90000000000003 142.0h-1.2M348.90000000000003 131.8h-1.2M348.90000000000003 121.6h-1.2" stroke="#333" stroke-width="0.55" fill="none"/>
<text x="412.70000000000005" y="126.7" font-size="6.4" text-anchor="end" style="stroke-width:0.3px">0.35%</text>
<rect x="60" y="202.3" width="65.8" height="63.89999999999998" fill="none" stroke="#959595" stroke-width="0.7"/>
<line x1="89.8" y1="202.3" x2="89.8" y2="266.2" stroke="#5a5a5a" stroke-width="0.55"/>
<line x1="60" y1="236.9" x2="125.8" y2="236.9" stroke="#5a5a5a" stroke-width="0.55"/>
<path d="M63.0 265.9v1.3M67.7 266.2v0.7M70.4 266.2v0.7M72.3 266.2v0.7M73.8 266.2v0.7M75.0 266.2v0.7M76.1 266.2v0.7M77.1 266.2v0.7M78.5 265.9v1.3M83.2 266.2v0.7M85.9 266.2v0.7M87.8 266.2v0.7M89.3 266.2v0.7M90.5 266.2v0.7M91.6 266.2v0.7M92.6 266.2v0.7M94.0 265.9v1.3M98.7 266.2v0.7M101.4 266.2v0.7M103.3 266.2v0.7M104.8 266.2v0.7M106.0 266.2v0.7M107.1 266.2v0.7M108.1 266.2v0.7M109.5 265.9v1.3M114.2 266.2v0.7M116.9 266.2v0.7M118.8 266.2v0.7M120.3 266.2v0.7M121.5 266.2v0.7M122.6 266.2v0.7M123.6 266.2v0.7M125.0 265.9v1.3M60.3 263.2h-1.3M60 258.5h-0.7M60 255.8h-0.7M60 253.9h-0.7M60 252.4h-0.7M60 251.2h-0.7M60 250.1h-0.7M60 249.1h-0.7M60.3 247.7h-1.3M60 243.0h-0.7M60 240.3h-0.7M60 238.4h-0.7M60 236.9h-0.7M60 235.7h-0.7M60 234.6h-0.7M60 233.6h-0.7M60.3 232.2h-1.3M60 227.5h-0.7M60 224.8h-0.7M60 222.9h-0.7M60 221.4h-0.7M60 220.2h-0.7M60 219.1h-0.7M60 218.1h-0.7M60.3 216.7h-1.3M60 212.0h-0.7M60 209.3h-0.7M60 207.4h-0.7M60 205.9h-0.7M60 204.7h-0.7M60 203.6h-0.7" stroke="#333" stroke-width="0.55" fill="none"/>
<g transform="rotate(-15 95.8 216)" filter="url(#blur2)" opacity="0.55"><ellipse cx="95.8" cy="216" rx="6.6" ry="5.6" fill="#000"/></g>
<g transform="rotate(-15 95.6 215.8)" filter="url(#blur1)" opacity="1"><ellipse cx="95.6" cy="215.8" rx="5.6" ry="4.6" fill="#000"/></g>
<path d="M102.1 213.6h0.7M100.5 213.1h0.7M97.4 209.0h0.7M96.4 215.3h0.7M93.3 214.4h0.7M93.9 213.9h0.7M86.7 215.8h0.7M93.2 214.7h0.7M91.5 216.4h0.7M98.6 214.5h0.7M94.7 220.9h0.7M100.2 218.3h0.7M100.0 214.0h0.7M95.9 219.8h0.7M93.4 216.0h0.7M97.4 216.9h0.7M95.3 219.5h0.7M95.5 218.6h0.7M100.3 217.3h0.7M97.8 211.6h0.7M90.1 215.0h0.7M98.6 220.6h0.7M91.1 218.0h0.7M91.9 214.2h0.7M95.1 218.5h0.7M97.3 219.8h0.7M92.4 219.7h0.7M99.4 215.5h0.7M97.2 213.7h0.7M91.2 215.5h0.7M95.1 226.1h0.7M94.9 221.9h0.7M96.7 216.9h0.7M98.1 212.8h0.7M99.5 216.5h0.7M90.2 219.2h0.7M98.2 217.1h0.7M101.6 213.4h0.7M98.2 218.1h0.7M93.0 220.7h0.7M89.1 212.8h0.7M97.0 212.0h0.7M94.1 210.6h0.7M95.2 212.2h0.7M96.0 210.6h0.7M97.3 214.8h0.7M95.9 215.7h0.7M95.3 211.5h0.7M85.7 218.2h0.7M91.7 215.2h0.7M96.0 209.0h0.7M92.3 214.6h0.7M91.8 217.9h0.7M94.6 213.4h0.7M92.4 219.5h0.7M93.5 218.5h0.7M96.2 209.3h0.7M91.5 216.9h0.7M97.6 218.3h0.7M99.5 218.8h0.7M94.1 215.6h0.7M98.5 214.0h0.7M98.8 209.9h0.7M98.1 214.9h0.7M88.7 220.8h0.7M96.9 215.8h0.7M91.2 215.3h0.7M101.1 212.0h0.7M81.5 215.9h0.7M90.9 216.5h0.7M93.5 213.3h0.7M93.1 220.2h0.7M91.4 223.7h0.7M92.8 212.8h0.7M99.2 217.3h0.7M92.1 219.3h0.7M87.9 214.4h0.7M99.9 214.3h0.7M90.9 218.7h0.7M99.3 215.2h0.7M88.4 216.3h0.7M97.9 218.2h0.7M102.8 213.7h0.7M93.8 216.3h0.7M99.8 211.9h0.7M99.0 205.8h0.7M98.4 213.1h0.7M98.0 217.9h0.7M91.0 216.7h0.7M97.0 217.8h0.7M91.4 213.4h0.7M89.9 226.0h0.7M94.8 215.4h0.7M90.5 220.3h0.7M94.6 221.2h0.7M99.1 215.4h0.7M97.8 211.7h0.7M94.0 214.3h0.7M90.7 217.1h0.7M96.1 220.9h0.7M82.1 216.4h0.7M91.8 215.2h0.7M97.6 217.0h0.7M95.5 214.4h0.7M97.9 216.8h0.7M88.3 216.6h0.7M89.5 213.2h0.7M96.3 216.1h0.7M95.6 213.0h0.7M94.3 213.1h0.7M97.7 218.0h0.7M103.4 218.8h0.7M92.2 215.1h0.7M92.2 217.8h0.7M103.9 216.8h0.7M86.2 213.6h0.7M91.0 218.7h0.7M95.9 217.0h0.7M102.1 211.8h0.7M93.7 223.2h0.7M96.5 213.1h0.7M86.7 212.5h0.7M86.2 218.2h0.7M96.5 219.3h0.7M94.7 213.8h0.7M94.1 222.9h0.7M88.9 218.0h0.7M96.2 218.0h0.7M94.5 218.0h0.7M98.8 214.9h0.7M93.8 215.7h0.7M91.8 216.1h0.7M94.7 216.9h0.7M101.8 219.3h0.7M94.4 218.4h0.7M97.4 218.3h0.7M96.0 216.9h0.7M93.3 213.8h0.7M100.0 219.6h0.7M98.6 216.9h0.7M96.4 214.3h0.7M89.2 219.6h0.7M96.1 214.0h0.7M92.8 221.0h0.7M89.8 223.3h0.7M99.8 223.4h0.7M92.9 216.5h0.7M93.8 216.9h0.7M94.4 213.7h0.7M99.4 212.5h0.7M94.1 218.3h0.7M93.3 215.0h0.7M96.8 214.5h0.7M90.7 216.6h0.7M96.0 221.9h0.7M92.1 220.1h0.7M92.4 215.4h0.7M94.6 217.2h0.7M100.3 221.1h0.7M94.1 220.9h0.7" stroke="#000" stroke-width="0.7" fill="none" opacity="0.8"/>
<path d="M105.0 233.9h0.6M99.7 234.4h0.6M101.7 231.1h0.6M101.2 233.0h0.6M105.3 235.8h0.6M101.4 235.0h0.6M106.4 223.4h0.6M106.4 221.0h0.6M103.6 232.6h0.6M106.4 230.7h0.6M100.6 224.2h0.6M98.2 233.6h0.6M101.3 224.7h0.6M103.6 224.4h0.6M100.7 226.2h0.6M107.0 237.8h0.6M101.5 219.6h0.6M102.8 229.4h0.6M103.0 232.4h0.6M101.0 234.6h0.6M104.5 230.3h0.6M100.8 226.1h0.6M104.1 222.4h0.6M101.5 224.5h0.6M97.8 232.6h0.6M101.9 229.2h0.6M104.6 220.0h0.6M101.8 230.7h0.6M104.5 222.5h0.6M104.1 230.3h0.6" stroke="#000" stroke-width="0.6" fill="none" opacity="0.3"/>
<path d="M76.9 232.2h0.6M73.1 233.0h0.6M76.8 226.0h0.6M77.0 224.2h0.6M79.6 222.6h0.6M75.0 227.8h0.6M78.9 228.1h0.6M80.4 228.2h0.6M79.3 222.4h0.6M75.8 223.7h0.6" stroke="#000" stroke-width="0.6" fill="none" opacity="0.22"/>
<path d="M109.5 253.1h0.6M79.1 253.1h0.6M97.6 248.6h0.6M92.3 248.2h0.6M85.6 239.6h0.6M90.9 257.5h0.6M108.8 248.4h0.6M83.2 248.8h0.6" stroke="#000" stroke-width="0.6" fill="none" opacity="0.2"/>
<text x="124.6" y="209.8" font-size="6.4" text-anchor="end" style="stroke-width:0.3px">98.6%</text>
<rect x="132.4" y="202.3" width="65.8" height="63.89999999999998" fill="none" stroke="#959595" stroke-width="0.7"/>
<line x1="166.4" y1="202.3" x2="166.4" y2="266.2" stroke="#5a5a5a" stroke-width="0.55"/>
<line x1="132.4" y1="236.9" x2="198.2" y2="236.9" stroke="#5a5a5a" stroke-width="0.55"/>
<path d="M135.4 265.9v1.3M140.1 266.2v0.7M142.8 266.2v0.7M144.7 266.2v0.7M146.2 266.2v0.7M147.4 266.2v0.7M148.5 266.2v0.7M149.5 266.2v0.7M150.9 265.9v1.3M155.6 266.2v0.7M158.3 266.2v0.7M160.2 266.2v0.7M161.7 266.2v0.7M162.9 266.2v0.7M164.0 266.2v0.7M165.0 266.2v0.7M166.4 265.9v1.3M171.1 266.2v0.7M173.8 266.2v0.7M175.7 266.2v0.7M177.2 266.2v0.7M178.4 266.2v0.7M179.5 266.2v0.7M180.5 266.2v0.7M181.9 265.9v1.3M186.6 266.2v0.7M189.3 266.2v0.7M191.2 266.2v0.7M192.7 266.2v0.7M193.9 266.2v0.7M195.0 266.2v0.7M196.0 266.2v0.7M197.4 265.9v1.3M132.70000000000002 263.2h-1.3M132.4 258.5h-0.7M132.4 255.8h-0.7M132.4 253.9h-0.7M132.4 252.4h-0.7M132.4 251.2h-0.7M132.4 250.1h-0.7M132.4 249.1h-0.7M132.70000000000002 247.7h-1.3M132.4 243.0h-0.7M132.4 240.3h-0.7M132.4 238.4h-0.7M132.4 236.9h-0.7M132.4 235.7h-0.7M132.4 234.6h-0.7M132.4 233.6h-0.7M132.70000000000002 232.2h-1.3M132.4 227.5h-0.7M132.4 224.8h-0.7M132.4 222.9h-0.7M132.4 221.4h-0.7M132.4 220.2h-0.7M132.4 219.1h-0.7M132.4 218.1h-0.7M132.70000000000002 216.7h-1.3M132.4 212.0h-0.7M132.4 209.3h-0.7M132.4 207.4h-0.7M132.4 205.9h-0.7M132.4 204.7h-0.7M132.4 203.6h-0.7" stroke="#333" stroke-width="0.55" fill="none"/>
<path d="M132.8 215.6 C138.4 215.4 144.4 214.4 150.4 213.2 C155.4 212.2 159.4 211.4 162.6 210.2 C162.4 212.7 161.1 215.7 158.6 218.4 C154.6 221.0 148.6 221.5 143.6 221.2 C140.4 220.8 136.4 220.5 132.8 220.2 Z" fill="url(#smg)" filter="url(#blur1)"/>
<path d="M138.7 219.4h0.7M157.5 214.9h0.7M154.6 219.4h0.7M157.2 213.8h0.7M160.4 215.6h0.7M143.6 218.2h0.7M149.2 217.3h0.7M149.6 217.5h0.7M146.7 216.1h0.7M160.4 213.0h0.7M136.6 221.8h0.7M159.1 213.2h0.7M150.0 217.6h0.7M143.4 215.1h0.7M157.3 214.9h0.7M154.6 216.4h0.7M139.4 216.1h0.7M143.9 219.8h0.7M156.1 214.7h0.7M148.4 216.7h0.7M153.8 218.9h0.7M156.2 216.0h0.7M159.9 216.5h0.7M146.5 218.5h0.7M144.8 217.4h0.7M156.5 217.5h0.7M151.8 218.0h0.7M159.1 215.6h0.7M161.1 216.2h0.7M158.7 217.9h0.7M159.9 209.3h0.7M151.8 220.2h0.7M159.3 212.5h0.7M147.5 220.6h0.7M142.4 217.9h0.7M146.1 217.1h0.7M138.2 218.5h0.7M144.3 217.5h0.7M141.7 219.4h0.7M134.7 218.8h0.7M157.2 218.2h0.7M149.5 214.5h0.7M155.5 211.6h0.7M139.2 216.7h0.7M159.5 220.4h0.7M155.0 216.8h0.7M133.8 217.7h0.7M140.6 217.5h0.7M136.6 221.4h0.7M160.1 213.7h0.7M137.4 219.3h0.7M147.6 211.7h0.7M142.6 219.0h0.7M145.9 215.8h0.7M162.2 215.2h0.7M143.4 218.0h0.7M155.6 216.9h0.7M148.3 216.0h0.7M149.4 215.2h0.7M154.0 215.0h0.7M159.7 214.1h0.7M137.2 218.9h0.7M156.9 218.0h0.7M140.3 219.3h0.7M154.6 218.4h0.7M137.3 225.1h0.7M153.4 215.1h0.7M156.6 215.5h0.7M138.1 216.1h0.7M146.5 216.5h0.7M163.1 214.5h0.7M144.3 213.3h0.7M143.0 218.4h0.7M137.7 220.2h0.7M150.1 220.0h0.7M153.6 215.4h0.7M148.8 218.0h0.7M137.8 218.6h0.7M151.4 210.7h0.7M148.7 218.5h0.7M144.9 220.8h0.7M138.5 218.0h0.7M149.1 222.4h0.7M133.5 221.6h0.7M148.2 216.6h0.7M150.2 220.0h0.7M144.0 217.4h0.7M142.8 216.5h0.7M143.3 213.9h0.7M156.9 216.9h0.7M154.4 220.1h0.7M153.9 215.0h0.7M152.1 217.9h0.7M138.1 219.8h0.7M158.5 212.2h0.7M148.0 215.5h0.7M150.8 216.3h0.7M151.1 214.6h0.7M160.6 214.8h0.7M148.9 216.6h0.7M154.5 213.4h0.7M162.0 216.3h0.7M161.2 211.7h0.7M140.0 218.3h0.7M161.8 215.8h0.7M145.8 218.3h0.7M155.8 216.1h0.7M160.1 213.9h0.7M155.5 219.1h0.7M154.9 217.1h0.7M137.3 217.1h0.7M151.9 218.0h0.7M156.7 220.3h0.7M162.7 215.4h0.7M142.6 217.5h0.7M156.6 217.5h0.7M155.8 213.4h0.7M140.1 217.3h0.7M139.6 217.9h0.7M147.0 218.2h0.7M141.1 222.5h0.7M153.1 220.0h0.7M142.3 216.7h0.7M162.3 216.0h0.7M143.3 216.8h0.7M146.2 215.9h0.7M159.2 217.3h0.7M156.9 216.6h0.7M145.5 218.4h0.7M147.6 221.0h0.7M158.0 214.8h0.7M148.6 216.4h0.7M141.5 216.3h0.7M153.8 215.0h0.7M153.2 221.4h0.7M141.6 215.0h0.7M137.2 220.4h0.7M139.4 216.3h0.7M155.5 212.5h0.7M150.6 217.2h0.7M143.4 220.2h0.7M156.2 212.0h0.7M138.9 218.4h0.7M154.2 219.3h0.7M160.0 212.3h0.7M161.4 215.7h0.7M148.1 214.1h0.7M154.4 216.9h0.7M156.8 213.7h0.7M157.0 216.9h0.7M142.1 217.5h0.7M159.1 212.2h0.7M154.3 215.1h0.7M138.4 220.6h0.7M152.4 216.3h0.7M157.3 212.0h0.7M143.0 216.0h0.7M147.4 216.5h0.7M147.0 218.6h0.7M153.5 217.2h0.7M156.1 213.2h0.7M153.1 215.9h0.7M155.1 217.5h0.7M134.1 220.6h0.7M136.7 215.9h0.7M158.0 213.3h0.7M140.6 214.0h0.7M153.8 215.8h0.7M154.6 220.2h0.7M160.4 211.9h0.7M152.8 212.6h0.7M137.1 219.2h0.7M156.4 216.6h0.7M162.7 215.3h0.7M138.4 219.4h0.7M137.2 220.9h0.7M151.3 214.2h0.7M152.9 216.7h0.7M149.0 216.7h0.7M142.6 218.9h0.7M156.1 216.6h0.7M142.4 221.3h0.7M142.5 217.5h0.7M162.8 214.6h0.7M158.7 217.8h0.7M139.1 216.0h0.7M142.9 216.0h0.7M147.5 219.0h0.7M135.1 218.2h0.7M145.7 217.9h0.7M136.3 218.6h0.7M135.5 218.7h0.7M155.4 217.0h0.7M144.8 218.0h0.7M144.5 221.0h0.7M159.5 214.2h0.7M151.2 212.8h0.7M157.7 218.6h0.7M152.9 219.0h0.7M161.0 212.5h0.7M147.4 217.8h0.7M140.7 218.5h0.7M155.0 215.8h0.7M141.0 217.4h0.7M144.1 217.6h0.7M152.0 218.1h0.7M147.7 215.4h0.7M155.3 220.8h0.7M154.0 217.7h0.7M135.0 216.7h0.7M161.9 211.2h0.7M139.6 215.7h0.7M142.7 220.0h0.7M147.6 219.8h0.7M160.2 219.1h0.7M134.4 220.6h0.7M146.8 219.2h0.7M141.2 217.5h0.7M148.8 217.9h0.7M158.5 214.7h0.7M149.2 214.8h0.7M154.3 216.3h0.7M148.9 218.0h0.7M163.4 218.2h0.7M156.5 217.7h0.7M155.6 217.9h0.7M144.5 215.8h0.7M152.8 217.0h0.7M155.8 216.4h0.7M158.8 212.1h0.7M160.6 213.4h0.7M139.7 221.4h0.7M143.7 218.4h0.7M157.9 213.0h0.7M148.1 216.8h0.7M154.3 213.1h0.7M161.7 216.6h0.7M149.4 215.9h0.7M147.0 220.1h0.7M141.9 218.2h0.7M143.1 219.3h0.7M139.9 217.8h0.7M140.2 220.6h0.7M161.3 214.5h0.7M147.6 214.3h0.7M159.4 212.2h0.7M160.9 213.6h0.7M157.0 214.6h0.7M136.0 215.0h0.7M133.6 217.4h0.7M146.0 216.7h0.7M150.9 218.0h0.7M146.1 219.1h0.7M147.8 217.4h0.7M155.8 211.6h0.7M147.5 221.0h0.7M136.8 217.6h0.7M134.1 218.6h0.7M147.8 217.3h0.7M142.9 220.0h0.7M145.8 221.5h0.7M155.2 214.9h0.7M135.2 216.9h0.7M161.6 217.5h0.7M152.7 217.6h0.7M147.7 219.7h0.7M161.4 216.0h0.7M149.7 218.9h0.7M159.5 210.8h0.7M158.2 216.4h0.7M151.3 218.6h0.7M144.3 216.8h0.7M138.0 217.0h0.7M140.0 219.9h0.7M152.8 217.0h0.7M139.6 219.9h0.7M162.8 217.4h0.7M144.7 216.7h0.7M143.8 219.1h0.7M144.2 216.7h0.7M157.4 218.1h0.7M152.9 216.4h0.7M144.1 219.7h0.7M134.9 217.9h0.7M159.2 216.2h0.7M153.0 217.8h0.7M137.3 214.7h0.7M152.0 214.8h0.7M154.8 217.6h0.7M154.4 211.8h0.7M149.4 217.5h0.7M140.2 221.1h0.7M142.4 215.8h0.7M151.5 215.3h0.7M158.0 216.1h0.7M148.3 216.4h0.7M135.0 219.3h0.7M158.4 218.1h0.7M143.4 222.4h0.7M157.2 215.9h0.7" stroke="#000" stroke-width="0.7" fill="none" opacity="0.75"/>
<path d="M161.5 220.5h0.6M140.9 224.5h0.6M135.1 221.0h0.6M135.3 227.2h0.6M144.7 227.8h0.6M136.5 227.0h0.6M141.6 225.5h0.6M152.5 225.3h0.6M142.3 220.0h0.6M145.6 227.7h0.6M140.0 225.0h0.6M148.3 229.3h0.6M142.6 220.0h0.6M142.1 220.3h0.6M142.9 231.2h0.6M147.5 224.7h0.6M153.4 224.0h0.6M147.7 225.8h0.6M148.6 220.6h0.6M150.8 228.0h0.6M137.9 229.9h0.6M145.3 227.3h0.6M149.5 228.0h0.6M140.0 223.4h0.6M148.1 227.1h0.6M149.7 226.3h0.6M141.2 228.7h0.6M148.9 228.5h0.6M139.8 225.6h0.6M141.3 224.2h0.6M146.6 226.3h0.6M138.7 217.2h0.6M138.8 226.9h0.6M138.3 226.6h0.6M142.1 222.2h0.6M154.5 230.4h0.6M144.3 225.0h0.6M152.8 221.0h0.6M138.1 228.8h0.6M152.3 223.6h0.6M138.8 226.3h0.6M133.8 223.6h0.6M143.2 217.4h0.6M149.8 227.6h0.6M153.7 220.7h0.6M134.7 222.6h0.6M134.6 231.7h0.6M137.2 224.2h0.6M146.7 226.6h0.6M156.8 221.8h0.6M152.2 225.7h0.6M135.6 225.7h0.6M133.8 230.3h0.6M139.2 228.4h0.6" stroke="#000" stroke-width="0.6" fill="none" opacity="0.4"/>
<path d="M158.7 233.5h0.6M142.3 238.0h0.6M141.2 242.6h0.6M150.3 232.7h0.6M143.9 241.5h0.6M138.1 247.3h0.6M143.1 236.0h0.6M142.1 246.9h0.6M155.2 245.0h0.6M153.9 237.7h0.6M161.7 241.2h0.6M152.3 240.6h0.6M154.5 238.9h0.6M147.8 227.7h0.6M164.5 229.4h0.6M163.5 244.5h0.6M144.5 238.8h0.6M148.8 225.3h0.6M146.5 238.9h0.6M157.8 230.0h0.6" stroke="#000" stroke-width="0.6" fill="none" opacity="0.25"/>
<text x="195.0" y="209.8" font-size="6.4" text-anchor="end" style="stroke-width:0.3px">0.1%</text>
<rect x="204.2" y="202.3" width="65.8" height="63.89999999999998" fill="none" stroke="#959595" stroke-width="0.7"/>
<line x1="234.1" y1="202.3" x2="234.1" y2="266.2" stroke="#5a5a5a" stroke-width="0.55"/>
<line x1="204.2" y1="236.9" x2="270.0" y2="236.9" stroke="#5a5a5a" stroke-width="0.55"/>
<path d="M207.2 265.9v1.3M211.9 266.2v0.7M214.6 266.2v0.7M216.5 266.2v0.7M218.0 266.2v0.7M219.2 266.2v0.7M220.3 266.2v0.7M221.3 266.2v0.7M222.7 265.9v1.3M227.4 266.2v0.7M230.1 266.2v0.7M232.0 266.2v0.7M233.5 266.2v0.7M234.7 266.2v0.7M235.8 266.2v0.7M236.8 266.2v0.7M238.2 265.9v1.3M242.9 266.2v0.7M245.6 266.2v0.7M247.5 266.2v0.7M249.0 266.2v0.7M250.2 266.2v0.7M251.3 266.2v0.7M252.3 266.2v0.7M253.7 265.9v1.3M258.4 266.2v0.7M261.1 266.2v0.7M263.0 266.2v0.7M264.5 266.2v0.7M265.7 266.2v0.7M266.8 266.2v0.7M267.8 266.2v0.7M269.2 265.9v1.3M204.5 263.2h-1.3M204.2 258.5h-0.7M204.2 255.8h-0.7M204.2 253.9h-0.7M204.2 252.4h-0.7M204.2 251.2h-0.7M204.2 250.1h-0.7M204.2 249.1h-0.7M204.5 247.7h-1.3M204.2 243.0h-0.7M204.2 240.3h-0.7M204.2 238.4h-0.7M204.2 236.9h-0.7M204.2 235.7h-0.7M204.2 234.6h-0.7M204.2 233.6h-0.7M204.5 232.2h-1.3M204.2 227.5h-0.7M204.2 224.8h-0.7M204.2 222.9h-0.7M204.2 221.4h-0.7M204.2 220.2h-0.7M204.2 219.1h-0.7M204.2 218.1h-0.7M204.5 216.7h-1.3M204.2 212.0h-0.7M204.2 209.3h-0.7M204.2 207.4h-0.7M204.2 205.9h-0.7M204.2 204.7h-0.7M204.2 203.6h-0.7" stroke="#333" stroke-width="0.55" fill="none"/>
<path d="M204.6 215.4 C210.2 215.2 216.2 213.9 222.2 212.7 C227.2 211.7 231.2 210.9 234.4 209.7 C234.2 212.2 232.9 215.2 230.4 217.9 C226.4 220.5 220.4 221.0 215.4 220.7 C212.2 220.0 208.2 219.7 204.6 219.2 Z" fill="url(#smg)" filter="url(#blur1)"/>
<path d="M230.1 209.2h0.7M219.9 218.4h0.7M230.3 217.2h0.7M209.4 216.8h0.7M226.8 217.5h0.7M206.7 218.1h0.7M216.0 220.2h0.7M227.4 213.4h0.7M230.0 217.6h0.7M213.6 217.2h0.7M210.7 216.6h0.7M212.0 219.3h0.7M221.0 220.0h0.7M232.4 210.6h0.7M222.3 216.5h0.7M230.0 215.4h0.7M210.9 214.3h0.7M226.6 214.5h0.7M218.6 216.1h0.7M232.3 211.0h0.7M228.2 214.2h0.7M213.9 219.7h0.7M220.7 215.4h0.7M212.2 218.0h0.7M211.0 216.8h0.7M215.8 215.0h0.7M223.5 222.1h0.7M222.7 213.6h0.7M233.8 213.4h0.7M217.8 217.3h0.7M226.1 220.1h0.7M213.4 220.0h0.7M222.0 214.8h0.7M217.4 220.7h0.7M224.4 213.6h0.7M210.9 219.2h0.7M230.0 215.8h0.7M226.6 214.3h0.7M222.5 217.1h0.7M227.3 217.1h0.7M229.5 215.9h0.7M211.5 217.6h0.7M230.1 215.5h0.7M228.0 213.7h0.7M221.8 217.8h0.7M210.8 215.5h0.7M220.6 213.5h0.7M233.0 212.8h0.7M214.7 220.2h0.7M224.1 216.1h0.7M219.7 215.7h0.7M223.1 216.3h0.7M213.9 219.4h0.7M227.0 215.1h0.7M224.0 212.7h0.7M230.1 214.2h0.7M210.7 218.1h0.7M217.2 219.9h0.7M211.2 215.2h0.7M212.7 216.2h0.7M210.0 218.0h0.7M212.5 214.2h0.7M224.8 217.1h0.7M208.3 218.6h0.7M231.7 214.7h0.7M233.5 213.8h0.7M222.4 215.3h0.7M207.0 222.1h0.7M226.1 213.9h0.7M214.9 220.9h0.7M217.9 220.0h0.7M211.2 221.6h0.7M232.3 217.1h0.7M226.1 214.6h0.7M218.1 218.5h0.7M218.0 214.5h0.7M224.9 220.3h0.7M215.4 218.3h0.7M210.4 221.5h0.7M219.6 214.0h0.7M225.3 216.5h0.7M233.8 213.1h0.7M225.9 218.6h0.7M221.4 215.6h0.7M219.1 217.1h0.7M208.4 215.3h0.7M222.8 214.6h0.7M214.5 217.1h0.7M232.4 215.0h0.7M233.9 213.9h0.7M230.4 219.3h0.7M231.6 212.9h0.7M230.5 218.0h0.7M231.0 214.0h0.7M233.1 209.2h0.7M221.6 214.5h0.7M222.0 219.9h0.7M229.1 212.8h0.7M227.5 215.7h0.7M214.3 216.7h0.7M224.6 217.0h0.7M211.3 222.2h0.7M227.6 217.6h0.7M223.7 217.0h0.7M226.1 213.8h0.7M223.7 217.8h0.7M210.3 220.4h0.7M215.6 219.7h0.7M222.4 212.7h0.7M208.6 219.1h0.7M208.6 219.3h0.7M209.7 218.5h0.7M218.9 216.9h0.7M231.0 210.8h0.7M212.2 218.1h0.7M221.3 214.9h0.7M232.6 216.5h0.7M208.0 219.5h0.7M219.7 216.5h0.7M215.2 219.6h0.7M231.6 213.2h0.7M224.7 215.4h0.7M215.7 218.9h0.7M222.9 216.7h0.7M224.8 215.7h0.7M213.8 218.1h0.7M219.1 216.9h0.7M217.6 220.2h0.7M211.3 219.6h0.7M224.8 214.9h0.7M214.5 217.6h0.7M233.5 215.2h0.7M225.4 217.8h0.7M209.6 218.3h0.7M214.3 215.7h0.7M230.9 213.9h0.7M229.9 210.7h0.7M232.0 213.3h0.7M227.6 219.5h0.7M222.6 216.5h0.7M233.5 213.7h0.7M209.9 219.7h0.7M231.4 211.2h0.7M230.0 216.8h0.7M211.8 215.5h0.7M230.9 209.3h0.7M225.4 213.8h0.7M209.1 218.8h0.7M222.1 215.4h0.7M228.5 217.4h0.7M212.4 219.6h0.7M216.9 219.9h0.7M215.2 215.0h0.7M215.1 216.8h0.7M231.2 211.6h0.7M206.6 217.3h0.7M209.3 220.8h0.7M211.8 220.1h0.7M213.9 215.8h0.7M219.4 217.2h0.7M229.6 218.2h0.7M227.2 214.6h0.7M225.7 218.3h0.7M232.0 213.7h0.7M215.7 217.1h0.7M227.6 212.4h0.7M212.4 214.1h0.7M234.2 212.6h0.7M224.6 215.9h0.7M230.2 210.5h0.7M229.2 218.4h0.7M232.0 212.2h0.7M207.7 216.8h0.7M226.5 217.5h0.7M207.6 219.2h0.7M211.2 214.0h0.7M230.4 216.2h0.7M219.6 214.6h0.7M224.8 215.5h0.7M216.2 216.1h0.7M208.0 216.3h0.7M224.3 213.8h0.7M230.6 218.1h0.7M228.0 214.2h0.7M217.8 216.2h0.7M230.1 213.2h0.7M226.2 213.9h0.7M222.2 218.0h0.7M226.5 214.6h0.7M226.6 215.8h0.7M227.4 213.7h0.7M208.9 218.6h0.7M206.5 218.5h0.7M210.3 215.1h0.7M224.1 215.7h0.7M231.4 218.5h0.7M205.9 221.4h0.7M219.3 214.9h0.7M227.5 213.8h0.7M226.9 212.3h0.7M214.7 216.7h0.7M229.0 212.0h0.7M225.5 216.6h0.7M222.3 215.8h0.7M227.0 214.1h0.7M206.4 219.9h0.7M211.0 218.6h0.7M211.9 220.2h0.7M229.7 212.0h0.7M229.5 214.0h0.7M212.3 216.0h0.7M226.5 217.8h0.7M230.6 215.4h0.7M219.1 218.1h0.7M227.3 219.8h0.7M231.1 210.8h0.7M215.0 220.5h0.7M231.1 216.7h0.7M226.4 216.1h0.7M210.0 217.1h0.7M223.2 216.7h0.7M211.2 220.4h0.7M212.1 221.2h0.7M232.8 213.7h0.7M217.2 217.8h0.7M222.9 216.3h0.7M208.3 218.2h0.7M229.7 217.5h0.7M230.9 211.0h0.7M209.4 214.8h0.7M216.2 217.3h0.7M223.5 217.1h0.7M220.5 216.6h0.7M207.0 216.8h0.7M231.6 214.8h0.7M210.5 218.2h0.7M208.8 219.9h0.7M233.2 215.8h0.7M221.1 215.3h0.7M222.3 215.4h0.7M227.1 219.8h0.7M224.9 214.2h0.7M227.6 213.9h0.7M222.0 217.9h0.7M228.9 216.1h0.7M210.7 218.1h0.7M228.2 221.2h0.7M225.6 219.4h0.7M219.4 218.2h0.7M213.3 218.4h0.7M213.6 219.4h0.7M209.5 213.5h0.7M229.6 212.2h0.7M216.5 216.2h0.7M206.4 215.4h0.7M230.2 215.7h0.7M219.6 218.2h0.7M223.9 215.4h0.7M212.1 216.5h0.7M229.0 217.4h0.7M212.1 218.4h0.7M231.1 214.9h0.7M217.6 216.3h0.7M209.1 215.2h0.7M233.9 216.5h0.7M216.1 213.5h0.7M230.3 211.2h0.7M226.5 216.2h0.7M218.0 215.8h0.7M223.7 220.6h0.7M208.9 219.4h0.7M208.8 214.8h0.7M206.8 220.2h0.7M225.0 212.6h0.7M216.2 220.6h0.7M221.6 215.1h0.7M205.8 217.0h0.7M230.0 216.1h0.7M218.3 219.8h0.7M229.2 216.6h0.7M216.8 216.1h0.7M220.2 217.1h0.7M208.4 214.5h0.7M228.7 218.5h0.7M207.8 220.7h0.7M223.1 221.5h0.7M232.2 207.6h0.7M217.7 217.6h0.7M222.1 215.2h0.7M233.2 213.3h0.7M225.1 215.0h0.7M227.9 214.7h0.7M221.3 213.3h0.7M230.1 215.3h0.7M228.9 213.5h0.7M208.3 218.1h0.7M225.8 212.0h0.7M220.0 218.8h0.7M230.6 215.4h0.7M209.6 220.1h0.7" stroke="#000" stroke-width="0.7" fill="none" opacity="0.75"/>
<path d="M217.4 221.1h0.6M210.3 222.6h0.6M220.4 228.0h0.6M227.3 224.6h0.6M214.1 226.7h0.6M207.8 220.9h0.6M217.1 229.6h0.6M225.0 224.7h0.6M225.0 223.4h0.6M207.4 219.5h0.6M219.1 227.5h0.6M219.9 224.6h0.6M213.7 228.1h0.6M216.5 220.2h0.6M227.9 222.7h0.6M220.0 224.7h0.6M225.3 225.5h0.6M226.7 225.4h0.6M213.2 223.1h0.6M222.1 222.1h0.6M224.3 223.9h0.6M209.5 222.0h0.6M215.7 230.2h0.6M223.1 224.8h0.6M209.6 230.7h0.6M214.7 224.7h0.6M213.5 228.9h0.6M218.3 223.3h0.6M218.4 221.6h0.6M208.5 224.2h0.6M232.8 221.2h0.6M215.8 219.8h0.6M218.3 225.4h0.6M222.8 220.5h0.6M212.1 222.7h0.6M214.9 231.9h0.6M215.3 224.6h0.6M212.8 227.2h0.6M237.4 228.3h0.6M229.2 221.3h0.6M225.4 224.8h0.6M226.9 228.0h0.6M222.1 219.4h0.6M218.0 223.1h0.6M220.5 224.8h0.6M225.3 219.7h0.6M211.0 224.5h0.6M219.5 223.4h0.6M216.7 224.9h0.6M225.3 224.3h0.6M218.8 219.0h0.6M219.7 217.5h0.6M220.2 224.4h0.6M216.9 222.4h0.6M213.5 227.3h0.6M219.8 224.6h0.6" stroke="#000" stroke-width="0.6" fill="none" opacity="0.4"/>
<path d="M217.2 237.9h0.6M229.6 236.6h0.6M218.1 229.8h0.6M221.5 231.3h0.6M210.1 241.8h0.6M216.2 224.7h0.6M215.5 247.6h0.6M220.0 228.9h0.6M212.6 240.9h0.6M223.8 238.0h0.6M219.4 239.6h0.6M232.2 239.6h0.6M219.6 228.5h0.6M224.1 245.9h0.6M225.6 229.3h0.6M222.2 244.4h0.6M216.1 239.6h0.6M229.8 246.3h0.6M209.0 226.4h0.6M223.6 240.8h0.6M218.2 236.6h0.6M217.8 243.8h0.6" stroke="#000" stroke-width="0.6" fill="none" opacity="0.25"/>
<text x="268.8" y="209.8" font-size="6.4" text-anchor="end" style="stroke-width:0.3px">0.1%</text>
<rect x="277.3" y="202.3" width="65.8" height="63.89999999999998" fill="none" stroke="#959595" stroke-width="0.7"/>
<line x1="306.9" y1="202.3" x2="306.9" y2="266.2" stroke="#5a5a5a" stroke-width="0.55"/>
<line x1="277.3" y1="236.9" x2="343.1" y2="236.9" stroke="#5a5a5a" stroke-width="0.55"/>
<path d="M280.3 265.9v1.3M285.0 266.2v0.7M287.7 266.2v0.7M289.6 266.2v0.7M291.1 266.2v0.7M292.3 266.2v0.7M293.4 266.2v0.7M294.4 266.2v0.7M295.8 265.9v1.3M300.5 266.2v0.7M303.2 266.2v0.7M305.1 266.2v0.7M306.6 266.2v0.7M307.8 266.2v0.7M308.9 266.2v0.7M309.9 266.2v0.7M311.3 265.9v1.3M316.0 266.2v0.7M318.7 266.2v0.7M320.6 266.2v0.7M322.1 266.2v0.7M323.3 266.2v0.7M324.4 266.2v0.7M325.4 266.2v0.7M326.8 265.9v1.3M331.5 266.2v0.7M334.2 266.2v0.7M336.1 266.2v0.7M337.6 266.2v0.7M338.8 266.2v0.7M339.9 266.2v0.7M340.9 266.2v0.7M342.3 265.9v1.3M277.6 263.2h-1.3M277.3 258.5h-0.7M277.3 255.8h-0.7M277.3 253.9h-0.7M277.3 252.4h-0.7M277.3 251.2h-0.7M277.3 250.1h-0.7M277.3 249.1h-0.7M277.6 247.7h-1.3M277.3 243.0h-0.7M277.3 240.3h-0.7M277.3 238.4h-0.7M277.3 236.9h-0.7M277.3 235.7h-0.7M277.3 234.6h-0.7M277.3 233.6h-0.7M277.6 232.2h-1.3M277.3 227.5h-0.7M277.3 224.8h-0.7M277.3 222.9h-0.7M277.3 221.4h-0.7M277.3 220.2h-0.7M277.3 219.1h-0.7M277.3 218.1h-0.7M277.6 216.7h-1.3M277.3 212.0h-0.7M277.3 209.3h-0.7M277.3 207.4h-0.7M277.3 205.9h-0.7M277.3 204.7h-0.7M277.3 203.6h-0.7" stroke="#333" stroke-width="0.55" fill="none"/>
<path d="M277.7 215.5 C283.3 215.3 289.3 213.6 295.3 212.4 C300.3 211.4 304.3 210.6 307.3 209.4 C307.1 211.9 305.8 214.9 303.3 217.6 C299.3 220.2 293.3 220.7 288.3 220.4 C285.3 219.3 281.3 219.0 277.7 218.3 Z" fill="url(#smg)" filter="url(#blur1)"/>
<path d="M290.7 214.7h0.7M292.1 217.0h0.7M299.8 215.3h0.7M292.9 217.9h0.7M279.6 217.7h0.7M288.0 218.5h0.7M293.3 217.0h0.7M279.7 219.4h0.7M295.3 212.4h0.7M297.6 214.1h0.7M300.8 212.3h0.7M293.9 217.6h0.7M295.0 214.5h0.7M304.9 216.7h0.7M297.9 210.3h0.7M296.7 214.7h0.7M301.7 218.1h0.7M291.7 216.6h0.7M298.1 216.4h0.7M301.3 216.7h0.7M293.2 218.4h0.7M290.9 216.9h0.7M290.7 216.4h0.7M292.5 214.9h0.7M282.2 219.1h0.7M296.7 217.0h0.7M297.8 216.8h0.7M303.5 214.1h0.7M285.5 219.5h0.7M299.2 212.6h0.7M306.1 214.9h0.7M283.6 217.7h0.7M303.8 212.7h0.7M298.5 214.8h0.7M302.4 213.7h0.7M284.8 215.1h0.7M283.8 219.2h0.7M303.6 209.4h0.7M282.2 217.6h0.7M294.4 213.0h0.7M301.5 213.2h0.7M289.5 218.1h0.7M305.1 211.1h0.7M287.8 215.3h0.7M289.3 215.9h0.7M297.4 216.2h0.7M287.2 219.9h0.7M287.5 218.5h0.7M307.8 214.0h0.7M299.4 217.1h0.7M298.6 217.1h0.7M278.7 216.0h0.7M299.7 214.4h0.7M278.7 217.5h0.7M295.6 216.7h0.7M306.8 211.6h0.7M305.4 211.8h0.7M301.6 214.1h0.7M299.2 215.4h0.7M303.6 212.2h0.7M298.0 213.1h0.7M298.9 214.6h0.7M295.2 217.0h0.7M287.6 217.4h0.7M298.2 214.2h0.7M301.4 215.2h0.7M287.9 221.0h0.7M290.4 219.1h0.7M291.8 216.1h0.7M290.4 218.4h0.7M297.1 216.3h0.7M301.0 216.6h0.7M290.4 213.6h0.7M305.4 215.3h0.7M296.3 219.1h0.7M296.0 212.5h0.7M302.6 218.1h0.7M294.9 217.8h0.7M297.5 218.2h0.7M302.7 212.2h0.7M292.4 217.6h0.7M286.6 218.1h0.7M297.9 216.7h0.7M291.3 216.0h0.7M291.6 214.7h0.7M299.1 212.1h0.7M300.4 213.2h0.7M298.4 214.5h0.7M301.3 212.7h0.7M282.2 213.3h0.7M291.4 217.9h0.7M286.8 216.9h0.7M282.8 218.1h0.7M302.3 212.1h0.7M295.9 219.1h0.7M303.3 213.2h0.7M292.4 219.7h0.7M305.8 212.9h0.7M296.0 214.2h0.7M299.8 213.4h0.7M295.2 216.4h0.7M297.7 215.1h0.7M301.8 218.1h0.7M285.0 216.9h0.7M290.8 221.6h0.7M286.9 215.0h0.7M288.4 216.7h0.7M287.7 219.7h0.7M282.1 219.2h0.7M294.3 216.7h0.7M291.1 217.5h0.7M292.0 214.3h0.7M284.9 221.6h0.7M298.9 213.3h0.7M306.5 215.9h0.7M290.7 216.7h0.7M299.1 214.1h0.7M299.8 214.3h0.7M289.7 215.5h0.7M283.9 218.4h0.7M283.9 220.5h0.7M291.6 220.5h0.7M279.2 221.7h0.7M290.4 218.2h0.7M291.4 215.6h0.7M302.9 215.8h0.7M289.5 216.2h0.7M291.7 213.8h0.7M283.2 215.6h0.7M293.0 215.5h0.7M295.3 216.7h0.7M296.1 214.3h0.7M280.9 217.1h0.7M301.9 208.1h0.7M300.3 214.8h0.7M283.8 216.0h0.7M279.3 221.8h0.7M279.0 222.8h0.7M307.9 215.7h0.7M284.7 215.6h0.7M284.5 215.8h0.7M294.9 215.6h0.7M289.9 216.2h0.7M303.5 214.3h0.7M297.7 217.7h0.7M298.8 212.7h0.7M289.6 218.0h0.7M290.6 216.0h0.7M301.2 214.3h0.7M283.1 217.5h0.7M282.7 220.1h0.7M305.1 214.4h0.7M279.9 216.2h0.7M286.8 216.6h0.7M293.2 215.0h0.7M290.4 218.8h0.7M298.2 212.8h0.7M288.8 215.6h0.7M291.2 216.4h0.7M305.2 215.5h0.7M297.5 215.1h0.7M299.7 213.4h0.7M286.2 218.0h0.7M306.0 215.8h0.7M286.8 215.5h0.7M278.9 219.4h0.7M297.0 218.0h0.7M287.6 218.7h0.7M293.5 220.9h0.7M281.3 215.8h0.7M303.4 211.6h0.7M302.7 218.1h0.7M297.0 216.3h0.7M294.0 216.3h0.7M299.1 217.2h0.7M300.7 216.9h0.7M302.3 214.0h0.7M303.3 216.4h0.7M297.7 221.4h0.7M290.2 215.4h0.7M291.6 218.9h0.7M278.5 219.3h0.7M304.2 213.4h0.7M294.6 211.1h0.7M297.9 215.7h0.7M290.2 219.1h0.7M293.0 216.5h0.7M295.5 215.8h0.7M297.0 217.6h0.7M284.2 214.2h0.7M300.1 215.3h0.7M285.3 216.6h0.7M304.9 211.4h0.7M280.8 215.6h0.7M298.7 214.3h0.7M299.3 218.1h0.7M304.0 215.9h0.7M294.9 219.9h0.7M289.6 218.8h0.7M292.7 217.8h0.7M286.5 217.7h0.7M297.8 221.3h0.7M282.6 217.7h0.7M297.3 218.1h0.7M302.2 214.6h0.7M293.8 216.6h0.7M303.4 210.7h0.7M303.0 211.4h0.7M300.0 212.6h0.7M295.3 214.4h0.7M303.1 214.1h0.7M288.2 214.4h0.7M306.2 215.8h0.7M294.0 218.4h0.7M282.9 218.5h0.7M285.3 220.7h0.7M301.1 212.9h0.7M304.5 214.4h0.7M292.0 217.9h0.7M301.0 215.1h0.7M279.9 217.7h0.7M278.5 216.7h0.7M293.6 219.3h0.7M283.7 215.3h0.7M304.0 212.2h0.7M284.6 213.1h0.7M291.8 218.5h0.7M299.8 214.7h0.7M297.1 219.4h0.7M305.6 216.1h0.7M291.9 214.1h0.7M304.4 213.9h0.7M296.0 213.0h0.7M284.2 221.2h0.7M288.5 212.9h0.7M294.2 218.8h0.7M303.4 211.5h0.7M281.8 217.8h0.7M295.6 219.4h0.7M289.1 220.3h0.7M289.2 214.6h0.7M306.8 213.2h0.7M286.8 217.3h0.7M301.8 212.3h0.7M286.9 220.5h0.7M296.0 214.8h0.7M294.4 217.0h0.7M301.2 211.5h0.7M298.1 217.3h0.7M290.6 216.2h0.7M297.7 213.7h0.7M288.5 211.1h0.7M290.8 218.5h0.7M295.8 218.9h0.7M297.4 211.2h0.7M299.7 212.8h0.7M297.0 218.3h0.7M284.9 213.8h0.7M288.0 215.5h0.7M280.4 215.1h0.7M296.0 219.3h0.7M296.7 215.4h0.7M286.3 216.2h0.7M298.3 217.8h0.7M300.5 216.2h0.7M296.5 214.4h0.7M299.2 217.3h0.7M300.4 215.7h0.7M299.3 218.0h0.7M290.4 218.5h0.7M289.1 218.1h0.7M290.8 219.2h0.7M281.7 214.0h0.7M288.0 215.9h0.7M304.5 212.8h0.7M282.7 220.8h0.7M295.7 212.0h0.7M289.2 217.6h0.7M285.8 213.9h0.7M289.8 217.5h0.7M284.6 217.5h0.7M303.3 216.5h0.7M301.6 216.5h0.7M295.5 213.7h0.7M301.0 214.2h0.7M287.2 218.6h0.7M291.6 217.4h0.7M301.4 216.9h0.7M290.4 216.5h0.7M306.9 216.2h0.7M287.0 219.4h0.7M305.9 210.4h0.7M299.4 219.3h0.7M303.2 218.9h0.7M288.8 221.4h0.7M293.0 217.0h0.7M292.7 219.0h0.7M304.0 214.1h0.7M304.8 217.4h0.7M283.8 212.2h0.7" stroke="#000" stroke-width="0.7" fill="none" opacity="0.75"/>
<path d="M292.8 221.0h0.6M298.5 217.7h0.6M288.8 223.1h0.6M281.1 228.0h0.6M286.6 225.8h0.6M285.6 224.9h0.6M286.2 224.6h0.6M289.1 222.2h0.6M293.4 223.8h0.6M282.0 221.0h0.6M293.5 228.7h0.6M279.2 223.1h0.6M293.6 227.7h0.6M295.7 220.6h0.6M290.2 227.3h0.6M291.8 223.7h0.6M280.3 224.9h0.6M289.4 224.5h0.6M302.1 228.2h0.6M283.4 225.1h0.6M287.4 224.7h0.6M303.2 227.3h0.6M290.2 222.3h0.6M288.6 225.6h0.6M285.8 227.9h0.6M290.1 220.6h0.6M306.5 215.1h0.6M287.7 224.0h0.6M297.9 228.0h0.6M301.8 229.4h0.6M292.5 224.8h0.6M298.2 224.3h0.6M279.6 222.9h0.6M295.3 226.4h0.6M280.9 228.2h0.6M292.4 219.6h0.6M293.7 227.6h0.6M294.2 223.4h0.6M283.4 228.0h0.6M291.7 224.4h0.6M286.6 221.1h0.6M298.9 226.8h0.6M284.3 229.3h0.6M288.0 221.2h0.6M297.9 228.8h0.6M286.7 220.5h0.6M289.4 216.6h0.6M290.3 229.3h0.6M292.1 222.0h0.6M295.7 222.8h0.6M300.2 223.2h0.6M306.5 223.3h0.6M291.5 221.4h0.6M279.5 225.5h0.6M292.8 221.3h0.6M294.5 223.1h0.6M285.4 224.2h0.6M293.1 226.7h0.6M300.0 225.6h0.6" stroke="#000" stroke-width="0.6" fill="none" opacity="0.4"/>
<path d="M288.3 232.3h0.6M296.6 229.2h0.6M292.5 234.1h0.6M293.1 237.5h0.6M301.6 246.3h0.6M300.5 242.5h0.6M285.7 242.6h0.6M303.6 228.2h0.6M312.8 233.0h0.6M294.3 231.6h0.6M289.5 242.8h0.6M295.7 234.1h0.6M302.5 230.8h0.6M287.4 233.0h0.6M288.2 240.5h0.6M292.1 230.1h0.6M290.3 224.5h0.6M295.0 237.0h0.6M298.4 235.0h0.6M296.8 230.8h0.6M294.0 237.3h0.6" stroke="#000" stroke-width="0.6" fill="none" opacity="0.25"/>
<text x="341.90000000000003" y="209.8" font-size="6.4" text-anchor="end" style="stroke-width:0.3px">0.1%</text>
<rect x="348.6" y="201.0" width="65.3" height="65.0" fill="none" stroke="#959595" stroke-width="0.7"/>
<path d="M349.4 265.1 L349.8 265.1 L350.2 265.1 L350.6 265.1 L351.0 265.1 L351.4 265.1 L351.8 265.1 L352.2 265.1 L352.6 265.1 L353.0 265.1 L353.4 265.1 L353.8 265.1 L354.2 265.1 L354.6 265.1 L355.0 265.1 L355.4 265.1 L355.8 265.1 L356.2 265.1 L356.6 265.1 L357.0 265.1 L357.4 265.1 L357.8 265.1 L358.2 265.1 L358.6 265.1 L359.0 265.1 L359.4 265.1 L359.8 265.1 L360.1 265.1 L360.5 265.1 L360.9 265.1 L361.3 265.1 L361.7 265.1 L362.1 265.1 L362.5 265.1 L362.9 265.1 L363.3 265.1 L363.7 265.1 L364.1 265.1 L364.5 265.1 L364.9 265.1 L365.3 265.1 L365.7 265.1 L366.1 265.1 L366.5 265.1 L366.9 265.1 L367.3 265.1 L367.7 265.1 L368.1 265.1 L368.5 265.1 L368.9 265.1 L369.3 265.1 L369.7 265.1 L370.1 265.1 L370.5 265.1 L370.9 265.1 L371.3 265.1 L371.7 265.1 L372.1 265.1 L372.5 265.1 L372.9 265.1 L373.3 265.1 L373.7 265.1 L374.1 265.1 L374.5 265.1 L374.9 265.1 L375.3 265.1 L375.7 265.1 L376.1 265.1 L376.5 265.1 L376.9 265.1 L377.3 265.1 L377.7 265.0 L378.1 265.0 L378.5 264.8 L378.9 264.6 L379.3 264.3 L379.7 263.7 L380.1 262.9 L380.5 261.6 L380.9 259.8 L381.3 257.3 L381.6 254.1 L382.0 250.0 L382.4 245.0 L382.8 239.2 L383.2 232.9 L383.6 226.4 L384.0 219.9 L384.4 214.2 L384.8 209.5 L385.2 206.3 L385.6 205.0 L386.0 205.7 L386.4 208.2 L386.8 212.4 L387.2 217.8 L387.6 224.0 L388.0 230.6 L388.4 237.1 L388.8 243.0 L389.2 248.3 L389.6 252.7 L390.0 256.3 L390.4 259.0 L390.8 261.0 L391.2 262.5 L391.6 263.5 L392.0 264.1 L392.4 264.5 L392.8 264.8 L393.2 264.9 L393.6 265.0 L394.0 265.1 L394.4 265.1 L394.8 265.1 L395.2 265.1 L395.6 265.1 L396.0 265.1 L396.4 265.1 L396.8 265.1 L397.2 265.1 L397.6 265.1 L398.0 265.1 L398.4 265.1 L398.8 265.1 L399.2 265.1 L399.6 265.1 L400.0 265.1 L400.4 265.1 L400.8 265.1 L401.2 265.1 L401.6 265.1 L402.0 265.1 L402.4 265.1 L402.7 265.1 L403.1 265.1 L403.5 265.1 L403.9 265.1 L404.3 265.1 L404.7 265.1 L405.1 265.1 L405.5 265.1 L405.9 265.1 L406.3 265.1 L406.7 265.1 L407.1 265.1 L407.5 265.1 L407.9 265.1 L408.3 265.1 L408.7 265.1 L409.1 265.1 L409.5 265.1 L409.9 265.1 L410.3 265.1 L410.7 265.1 L411.1 265.1 L411.5 265.1 L411.9 265.1 L412.3 265.1 L412.7 265.1 L413.1 265.1" fill="none" stroke="#4a4a4a" stroke-width="0.75"/>
<line x1="366.6" y1="238.8" x2="413.6" y2="238.8" stroke="#555" stroke-width="1.3"/>
<line x1="366.6" y1="237.5" x2="366.6" y2="240.10000000000002" stroke="#555" stroke-width="0.8"/>
<line x1="413.40000000000003" y1="237.5" x2="413.40000000000003" y2="240.10000000000002" stroke="#555" stroke-width="0.8"/>
<path d="M354.6 265.7v1.3M358.9 266.0v0.7M361.4 266.0v0.7M363.2 266.0v0.7M364.6 266.0v0.7M365.7 266.0v0.7M366.7 266.0v0.7M367.6 266.0v0.7M368.9 265.7v1.3M373.2 266.0v0.7M375.7 266.0v0.7M377.5 266.0v0.7M378.9 266.0v0.7M380.0 266.0v0.7M381.0 266.0v0.7M381.9 266.0v0.7M383.2 265.7v1.3M387.5 266.0v0.7M390.0 266.0v0.7M391.8 266.0v0.7M393.2 266.0v0.7M394.3 266.0v0.7M395.3 266.0v0.7M396.2 266.0v0.7M397.5 265.7v1.3M401.8 266.0v0.7M404.3 266.0v0.7M406.1 266.0v0.7M407.5 266.0v0.7M408.6 266.0v0.7M409.6 266.0v0.7M410.5 266.0v0.7M411.8 265.7v1.3M348.90000000000003 265.0h-1.2M348.90000000000003 254.8h-1.2M348.90000000000003 244.6h-1.2M348.90000000000003 234.4h-1.2M348.90000000000003 224.2h-1.2M348.90000000000003 214.0h-1.2M348.90000000000003 203.8h-1.2" stroke="#333" stroke-width="0.55" fill="none"/>
<text x="412.70000000000005" y="209.5" font-size="6.4" text-anchor="end" style="stroke-width:0.3px">99.9%</text>
<line x1="32.3" y1="337.2" x2="32.3" y2="420.6" stroke="#000" stroke-width="1.4"/>
<line x1="31.699999999999996" y1="420.0" x2="156" y2="420.0" stroke="#000" stroke-width="1.1"/>
<line x1="29.799999999999997" y1="420.0" x2="32.3" y2="420.0" stroke="#000" stroke-width="1.1"/>
<text x="29.499999999999996" y="423.0" font-size="8.1" text-anchor="end">0</text>
<line x1="29.799999999999997" y1="392.6" x2="32.3" y2="392.6" stroke="#000" stroke-width="1.1"/>
<text x="29.499999999999996" y="395.6" font-size="8.1" text-anchor="end">20</text>
<line x1="29.799999999999997" y1="365.2" x2="32.3" y2="365.2" stroke="#000" stroke-width="1.1"/>
<text x="29.499999999999996" y="368.2" font-size="8.1" text-anchor="end">40</text>
<line x1="29.799999999999997" y1="337.8" x2="32.3" y2="337.8" stroke="#000" stroke-width="1.1"/>
<text x="29.499999999999996" y="340.8" font-size="8.1" text-anchor="end">60</text>
<line x1="48" y1="420.0" x2="48" y2="423.0" stroke="#000" stroke-width="1.0"/>
<text x="48" y="431.3" font-size="8.1" text-anchor="middle">20:1</text>
<line x1="79" y1="420.0" x2="79" y2="423.0" stroke="#000" stroke-width="1.0"/>
<text x="79" y="431.3" font-size="8.1" text-anchor="middle">10:1</text>
<line x1="110" y1="420.0" x2="110" y2="423.0" stroke="#000" stroke-width="1.0"/>
<text x="110" y="431.3" font-size="8.1" text-anchor="middle">5:1</text>
<line x1="141.2" y1="420.0" x2="141.2" y2="423.0" stroke="#000" stroke-width="1.0"/>
<text x="141.2" y="431.3" font-size="8.1" text-anchor="middle">2.5:1</text>
<text x="36.7" y="331.6" font-size="7.8">ROR1-CAR CD8+ T-cell clone</text>
<text x="16.7" y="377.0" font-size="7.8" text-anchor="middle" transform="rotate(-90 16.7 377.0)">% specific lysis</text>
<text x="94.5" y="442.5" font-size="8.0" text-anchor="middle">E:T ratio</text>
<path d="M48 420.00 L79 420.00 L110 420.00 L141.2 420.00" fill="none" stroke="#000" stroke-width="1.0"/>
<path d="M48 423.00 L45.15 417.90 L50.85 417.90 Z"/>
<path d="M79 423.00 L76.15 417.90 L81.85 417.90 Z"/>
<path d="M110 423.00 L107.15 417.90 L112.85 417.90 Z"/>
<path d="M141.2 423.00 L138.35 417.90 L144.05 417.90 Z"/>
<path d="M48 341.91 L79 376.16 L110 396.71 L141.2 409.04" fill="none" stroke="#000" stroke-width="1.0"/>
<path d="M48 338.91 L45.15 344.01 L50.85 344.01 Z"/>
<path d="M79 373.16 L76.15 378.26 L81.85 378.26 Z"/>
<path d="M110 393.71 L107.15 398.81 L112.85 398.81 Z"/>
<path d="M141.2 406.04 L138.35 411.14 L144.05 411.14 Z"/>
<path d="M48 370.68 L79 381.64 L110 383.01 L141.2 393.97" fill="none" stroke="#000" stroke-width="1.0"/>
<circle cx="48" cy="370.68" r="2.60"/>
<circle cx="79" cy="381.64" r="2.60"/>
<circle cx="110" cy="383.01" r="2.60"/>
<circle cx="141.2" cy="393.97" r="2.60"/>
<line x1="105.60000000000001" y1="346.9" x2="114.2" y2="346.9" stroke="#000" stroke-width="1.0"/>
<circle cx="109.9" cy="346.90" r="2.29"/>
<text x="119.7" y="349.59999999999997" font-size="7.8">B-CLL</text>
<line x1="105.60000000000001" y1="356.7" x2="114.2" y2="356.7" stroke="#000" stroke-width="1.0"/>
<path d="M109.9 354.06 L107.39 358.55 L112.41 358.55 Z"/>
<text x="119.7" y="359.4" font-size="7.8">K562/ROR1</text>
<line x1="105.60000000000001" y1="366" x2="114.2" y2="366" stroke="#000" stroke-width="1.0"/>
<path d="M109.9 368.64 L107.39 364.15 L112.41 364.15 Z"/>
<text x="119.7" y="368.7" font-size="7.8">K562</text>
<line x1="206.4" y1="337.2" x2="206.4" y2="420.6" stroke="#000" stroke-width="1.4"/>
<line x1="205.8" y1="420.0" x2="331" y2="420.0" stroke="#000" stroke-width="1.1"/>
<line x1="203.9" y1="420.0" x2="206.4" y2="420.0" stroke="#000" stroke-width="1.1"/>
<text x="203.6" y="423.0" font-size="8.1" text-anchor="end">0</text>
<line x1="203.9" y1="392.6" x2="206.4" y2="392.6" stroke="#000" stroke-width="1.1"/>
<text x="203.6" y="395.6" font-size="8.1" text-anchor="end">20</text>
<line x1="203.9" y1="365.2" x2="206.4" y2="365.2" stroke="#000" stroke-width="1.1"/>
<text x="203.6" y="368.2" font-size="8.1" text-anchor="end">40</text>
<line x1="203.9" y1="337.8" x2="206.4" y2="337.8" stroke="#000" stroke-width="1.1"/>
<text x="203.6" y="340.8" font-size="8.1" text-anchor="end">60</text>
<line x1="222" y1="420.0" x2="222" y2="423.0" stroke="#000" stroke-width="1.0"/>
<text x="222" y="431.3" font-size="8.1" text-anchor="middle">20:1</text>
<line x1="253.2" y1="420.0" x2="253.2" y2="423.0" stroke="#000" stroke-width="1.0"/>
<text x="253.2" y="431.3" font-size="8.1" text-anchor="middle">10:1</text>
<line x1="284.4" y1="420.0" x2="284.4" y2="423.0" stroke="#000" stroke-width="1.0"/>
<text x="284.4" y="431.3" font-size="8.1" text-anchor="middle">5:1</text>
<line x1="315.3" y1="420.0" x2="315.3" y2="423.0" stroke="#000" stroke-width="1.0"/>
<text x="315.3" y="431.3" font-size="8.1" text-anchor="middle">2.5:1</text>
<text x="210.4" y="331.6" font-size="7.8">ROR1-CAR CD8+ T-cell clone</text>
<text x="190.9" y="377.0" font-size="7.8" text-anchor="middle" transform="rotate(-90 190.9 377.0)">% specific lysis</text>
<text x="268.8" y="443.7" font-size="8.0" text-anchor="middle">E:T ratio</text>
<path d="M222 420.00 L253.2 420.00 L284.4 420.00 L315.3 420.00" fill="none" stroke="#000" stroke-width="1.0"/>
<rect x="219.55" y="417.55" width="4.90" height="4.90"/>
<rect x="250.75" y="417.55" width="4.90" height="4.90"/>
<rect x="281.95" y="417.55" width="4.90" height="4.90"/>
<rect x="312.85" y="417.55" width="4.90" height="4.90"/>
<path d="M222 370.68 L253.2 381.64 L284.4 383.01 L315.3 393.97" fill="none" stroke="#000" stroke-width="1.0"/>
<circle cx="222" cy="370.68" r="2.60"/>
<circle cx="253.2" cy="381.64" r="2.60"/>
<circle cx="284.4" cy="383.01" r="2.60"/>
<circle cx="315.3" cy="393.97" r="2.60"/>
<line x1="354.8" y1="337.2" x2="354.8" y2="420.6" stroke="#000" stroke-width="1.4"/>
<line x1="354.2" y1="420.0" x2="478.8" y2="420.0" stroke="#000" stroke-width="1.1"/>
<line x1="352.3" y1="420.0" x2="354.8" y2="420.0" stroke="#000" stroke-width="1.1"/>
<text x="352.0" y="423.0" font-size="8.1" text-anchor="end">0</text>
<line x1="352.3" y1="392.6" x2="354.8" y2="392.6" stroke="#000" stroke-width="1.1"/>
<text x="352.0" y="395.6" font-size="8.1" text-anchor="end">20</text>
<line x1="352.3" y1="365.2" x2="354.8" y2="365.2" stroke="#000" stroke-width="1.1"/>
<text x="352.0" y="368.2" font-size="8.1" text-anchor="end">40</text>
<line x1="352.3" y1="337.8" x2="354.8" y2="337.8" stroke="#000" stroke-width="1.1"/>
<text x="352.0" y="340.8" font-size="8.1" text-anchor="end">60</text>
<line x1="370.6" y1="420.0" x2="370.6" y2="423.0" stroke="#000" stroke-width="1.0"/>
<text x="370.6" y="431.3" font-size="8.1" text-anchor="middle">20:1</text>
<line x1="401.3" y1="420.0" x2="401.3" y2="423.0" stroke="#000" stroke-width="1.0"/>
<text x="401.3" y="431.3" font-size="8.1" text-anchor="middle">10:1</text>
<line x1="432.4" y1="420.0" x2="432.4" y2="423.0" stroke="#000" stroke-width="1.0"/>
<text x="432.4" y="431.3" font-size="8.1" text-anchor="middle">5:1</text>
<line x1="463.3" y1="420.0" x2="463.3" y2="423.0" stroke="#000" stroke-width="1.0"/>
<text x="463.3" y="431.3" font-size="8.1" text-anchor="middle">2.5:1</text>
<text x="359.6" y="331.6" font-size="7.8">CD20-CAR CD8+ T-cell clone</text>
<text x="338.9" y="377.0" font-size="7.8" text-anchor="middle" transform="rotate(-90 338.9 377.0)">% specific lysis</text>
<text x="416.8" y="444.5" font-size="8.0" text-anchor="middle">E:T ratio</text>
<path d="M370.6 340.54 L401.3 365.20 L432.4 393.97 L463.3 406.30" fill="none" stroke="#000" stroke-width="1.0"/>
<path d="M370.6 337.54 L367.75 342.64 L373.45 342.64 Z"/>
<path d="M401.3 362.20 L398.45 367.30 L404.15 367.30 Z"/>
<path d="M432.4 390.97 L429.55 396.07 L435.25 396.07 Z"/>
<path d="M463.3 403.30 L460.45 408.40 L466.15 408.40 Z"/>
<path d="M370.6 352.87 L401.3 377.53 L432.4 388.49 L463.3 392.60" fill="none" stroke="#000" stroke-width="1.0"/>
<rect x="368.15" y="350.42" width="4.90" height="4.90"/>
<rect x="398.85" y="375.08" width="4.90" height="4.90"/>
<rect x="429.95" y="386.04" width="4.90" height="4.90"/>
<rect x="460.85" y="390.15" width="4.90" height="4.90"/>
<path d="M370.6 358.35 L401.3 380.27 L432.4 387.12 L463.3 396.71" fill="none" stroke="#000" stroke-width="1.0"/>
<circle cx="370.6" cy="358.35" r="2.60"/>
<circle cx="401.3" cy="380.27" r="2.60"/>
<circle cx="432.4" cy="387.12" r="2.60"/>
<circle cx="463.3" cy="396.71" r="2.60"/>
<line x1="427.6" y1="346.3" x2="437.6" y2="346.3" stroke="#000" stroke-width="1.0"/>
<circle cx="432.6" cy="346.30" r="2.29"/>
<text x="441.6" y="349.0" font-size="7.95">B-CLL</text>
<line x1="427.6" y1="355.9" x2="437.6" y2="355.9" stroke="#000" stroke-width="1.0"/>
<rect x="430.44" y="353.74" width="4.31" height="4.31"/>
<text x="441.6" y="358.59999999999997" font-size="7.95">autologous B-cells</text>
<line x1="427.6" y1="365.5" x2="437.6" y2="365.5" stroke="#000" stroke-width="1.0"/>
<path d="M432.6 362.86 L430.09 367.35 L435.11 367.35 Z"/>
<text x="441.6" y="368.2" font-size="7.95">autologous EBV-LCL</text>
<line x1="32.5" y1="472.84" x2="32.5" y2="556.3499999999999" stroke="#000" stroke-width="1.3"/>
<line x1="31.9" y1="555.8" x2="269.5" y2="555.8" stroke="#000" stroke-width="1.2"/>
<line x1="30.1" y1="555.8" x2="32.5" y2="555.8" stroke="#000" stroke-width="1.1"/>
<text x="29.7" y="558.9" font-size="8.1" text-anchor="end">0</text>
<line x1="30.1" y1="528.3299999999999" x2="32.5" y2="528.3299999999999" stroke="#000" stroke-width="1.1"/>
<text x="29.7" y="531.43" font-size="8.1" text-anchor="end">20</text>
<line x1="30.1" y1="500.85999999999996" x2="32.5" y2="500.85999999999996" stroke="#000" stroke-width="1.1"/>
<text x="29.7" y="503.96" font-size="8.1" text-anchor="end">40</text>
<line x1="30.1" y1="473.39" x2="32.5" y2="473.39" stroke="#000" stroke-width="1.1"/>
<text x="29.7" y="476.49" font-size="8.1" text-anchor="end">60</text>
<text x="16.9" y="514.0" font-size="7.8" text-anchor="middle" transform="rotate(-90 16.9 514.0)">% specific lysis</text>
<rect x="35.2" y="493.99249999999995" width="4.3" height="62.1075" fill="#000" stroke="none" stroke-width="0"/>
<rect x="40.2" y="554.3" width="4.4" height="1.5" fill="#333" stroke="#000" stroke-width="0.5"/>
<line x1="39.7" y1="555.8" x2="39.7" y2="558.1999999999999" stroke="#000" stroke-width="0.9"/>
<text x="41.400000000000006" y="564.0999999999999" font-size="7.9" text-anchor="end" transform="rotate(-45 41.400000000000006 564.0999999999999)">B-CLL #1</text>
<rect x="50.13" y="503.60699999999997" width="4.3" height="52.49299999999998" fill="#000" stroke="none" stroke-width="0"/>
<rect x="55.13" y="554.3" width="4.4" height="1.5" fill="#333" stroke="#000" stroke-width="0.5"/>
<line x1="54.63" y1="555.8" x2="54.63" y2="558.1999999999999" stroke="#000" stroke-width="0.9"/>
<text x="56.330000000000005" y="564.0999999999999" font-size="7.9" text-anchor="end" transform="rotate(-45 56.330000000000005 564.0999999999999)">B-CLL #2</text>
<rect x="65.06" y="506.3539999999999" width="4.3" height="49.74600000000002" fill="#000" stroke="none" stroke-width="0"/>
<rect x="70.06" y="554.3" width="4.4" height="1.5" fill="#333" stroke="#000" stroke-width="0.5"/>
<line x1="69.56" y1="555.8" x2="69.56" y2="558.1999999999999" stroke="#000" stroke-width="0.9"/>
<text x="71.26" y="564.0999999999999" font-size="7.9" text-anchor="end" transform="rotate(-45 71.26 564.0999999999999)">B-CLL #3</text>
<rect x="79.99000000000001" y="521.4625" width="4.3" height="34.637499999999974" fill="#000" stroke="none" stroke-width="0"/>
<rect x="84.99000000000001" y="554.3" width="4.4" height="1.5" fill="#333" stroke="#000" stroke-width="0.5"/>
<line x1="84.49000000000001" y1="555.8" x2="84.49000000000001" y2="558.1999999999999" stroke="#000" stroke-width="0.9"/>
<text x="86.19000000000001" y="564.0999999999999" font-size="7.9" text-anchor="end" transform="rotate(-45 86.19000000000001 564.0999999999999)">B-CLL #4</text>
<rect x="94.92" y="515.9685" width="4.3" height="40.1315" fill="#000" stroke="none" stroke-width="0"/>
<rect x="99.92" y="554.3" width="4.4" height="1.5" fill="#333" stroke="#000" stroke-width="0.5"/>
<line x1="99.42" y1="555.8" x2="99.42" y2="558.1999999999999" stroke="#000" stroke-width="0.9"/>
<text x="101.12" y="564.0999999999999" font-size="7.9" text-anchor="end" transform="rotate(-45 101.12 564.0999999999999)">B-CLL #5</text>
<rect x="109.85000000000001" y="504.98049999999995" width="4.3" height="51.1195" fill="#000" stroke="none" stroke-width="0"/>
<rect x="114.85000000000001" y="554.3" width="4.4" height="1.5" fill="#333" stroke="#000" stroke-width="0.5"/>
<line x1="114.35000000000001" y1="555.8" x2="114.35000000000001" y2="558.1999999999999" stroke="#000" stroke-width="0.9"/>
<text x="116.05000000000001" y="564.0999999999999" font-size="7.9" text-anchor="end" transform="rotate(-45 116.05000000000001 564.0999999999999)">B-CLL #6</text>
<rect x="124.78" y="517.342" width="4.3" height="38.75799999999997" fill="#000" stroke="none" stroke-width="0"/>
<rect x="129.78" y="554.3" width="4.4" height="1.5" fill="#333" stroke="#000" stroke-width="0.5"/>
<line x1="129.28" y1="555.8" x2="129.28" y2="558.1999999999999" stroke="#000" stroke-width="0.9"/>
<text x="130.98" y="564.0999999999999" font-size="7.9" text-anchor="end" transform="rotate(-45 130.98 564.0999999999999)">MCL #1</text>
<rect x="139.70999999999998" y="489.87199999999996" width="4.3" height="66.228" fill="#000" stroke="none" stroke-width="0"/>
<rect x="144.70999999999998" y="554.3" width="4.4" height="1.5" fill="#333" stroke="#000" stroke-width="0.5"/>
<line x1="144.20999999999998" y1="555.8" x2="144.20999999999998" y2="558.1999999999999" stroke="#000" stroke-width="0.9"/>
<text x="145.90999999999997" y="564.0999999999999" font-size="7.9" text-anchor="end" transform="rotate(-45 145.90999999999997 564.0999999999999)">JeKo-1</text>
<rect x="154.64" y="524.2094999999999" width="4.3" height="31.89050000000002" fill="#000" stroke="none" stroke-width="0"/>
<rect x="159.64" y="554.3" width="4.4" height="1.5" fill="#333" stroke="#000" stroke-width="0.5"/>
<line x1="159.14" y1="555.8" x2="159.14" y2="558.1999999999999" stroke="#000" stroke-width="0.9"/>
<text x="160.83999999999997" y="564.0999999999999" font-size="7.9" text-anchor="end" transform="rotate(-45 160.83999999999997 564.0999999999999)">Rec-1</text>
<rect x="169.57" y="507.72749999999996" width="4.3" height="48.37249999999999" fill="#000" stroke="none" stroke-width="0"/>
<rect x="174.57" y="554.3" width="4.4" height="1.5" fill="#333" stroke="#000" stroke-width="0.5"/>
<line x1="174.07" y1="555.8" x2="174.07" y2="558.1999999999999" stroke="#000" stroke-width="0.9"/>
<text x="175.76999999999998" y="564.0999999999999" font-size="7.9" text-anchor="end" transform="rotate(-45 175.76999999999998 564.0999999999999)">BALL-1</text>
<rect x="184.5" y="517.342" width="4.3" height="38.75799999999997" fill="#000" stroke="none" stroke-width="0"/>
<rect x="189.5" y="554.3" width="4.4" height="1.5" fill="#333" stroke="#000" stroke-width="0.5"/>
<line x1="189.0" y1="555.8" x2="189.0" y2="558.1999999999999" stroke="#000" stroke-width="0.9"/>
<text x="190.7" y="564.0999999999999" font-size="7.9" text-anchor="end" transform="rotate(-45 190.7 564.0999999999999)">RCH-ACV</text>
<rect x="199.43" y="517.342" width="4.3" height="38.75799999999997" fill="#000" stroke="none" stroke-width="0"/>
<rect x="204.43" y="554.3" width="4.4" height="1.5" fill="#333" stroke="#000" stroke-width="0.5"/>
<line x1="203.93" y1="555.8" x2="203.93" y2="558.1999999999999" stroke="#000" stroke-width="0.9"/>
<text x="205.63" y="564.0999999999999" font-size="7.9" text-anchor="end" transform="rotate(-45 205.63 564.0999999999999)">RPMI-8226</text>
<rect x="214.36" y="554.083125" width="4.3" height="2.016874999999959" fill="#000" stroke="none" stroke-width="0"/>
<rect x="219.36" y="554.3" width="4.4" height="1.5" fill="#333" stroke="#000" stroke-width="0.5"/>
<line x1="218.86" y1="555.8" x2="218.86" y2="558.1999999999999" stroke="#000" stroke-width="0.9"/>
<text x="220.56" y="564.0999999999999" font-size="7.9" text-anchor="end" transform="rotate(-45 220.56 564.0999999999999)">SUP-B15</text>
<rect x="229.29000000000002" y="554.083125" width="4.3" height="2.016874999999959" fill="#000" stroke="none" stroke-width="0"/>
<rect x="234.29000000000002" y="554.3" width="4.4" height="1.5" fill="#333" stroke="#000" stroke-width="0.5"/>
<line x1="233.79000000000002" y1="555.8" x2="233.79000000000002" y2="558.1999999999999" stroke="#000" stroke-width="0.9"/>
<text x="235.49" y="564.0999999999999" font-size="7.9" text-anchor="end" transform="rotate(-45 235.49 564.0999999999999)">FL-18</text>
<rect x="244.21999999999997" y="554.083125" width="4.3" height="2.016874999999959" fill="#000" stroke="none" stroke-width="0"/>
<rect x="249.21999999999997" y="554.3" width="4.4" height="1.5" fill="#333" stroke="#000" stroke-width="0.5"/>
<line x1="248.71999999999997" y1="555.8" x2="248.71999999999997" y2="558.1999999999999" stroke="#000" stroke-width="0.9"/>
<text x="250.41999999999996" y="564.0999999999999" font-size="7.9" text-anchor="end" transform="rotate(-45 250.41999999999996 564.0999999999999)">SU-DHL-4</text>
<rect x="259.15" y="554.083125" width="4.3" height="2.016874999999959" fill="#000" stroke="none" stroke-width="0"/>
<rect x="264.15" y="554.3" width="4.4" height="1.5" fill="#333" stroke="#000" stroke-width="0.5"/>
<line x1="263.65" y1="555.8" x2="263.65" y2="558.1999999999999" stroke="#000" stroke-width="0.9"/>
<text x="265.34999999999997" y="564.0999999999999" font-size="7.9" text-anchor="end" transform="rotate(-45 265.34999999999997 564.0999999999999)">Jurkat</text>
<rect x="181.6" y="474.9" width="9.3" height="6.9" fill="#000" stroke="#000" stroke-width="0.7"/>
<rect x="181.6" y="486.9" width="9.3" height="6.9" fill="#808080" stroke="#000" stroke-width="0.7"/>
<text x="196.1" y="481.7" font-size="7.85">ROR1-CAR clone</text>
<text x="196.1" y="493.4" font-size="7.85">GFP-clone</text>
<line x1="303.4" y1="473.59999999999997" x2="303.4" y2="556.4499999999999" stroke="#000" stroke-width="1.3"/>
<line x1="302.79999999999995" y1="555.9" x2="445" y2="555.9" stroke="#000" stroke-width="1.2"/>
<line x1="301.0" y1="555.9" x2="303.4" y2="555.9" stroke="#000" stroke-width="1.1"/>
<text x="300.59999999999997" y="559.0" font-size="8.1" text-anchor="end">0</text>
<line x1="301.0" y1="528.65" x2="303.4" y2="528.65" stroke="#000" stroke-width="1.1"/>
<text x="300.59999999999997" y="531.75" font-size="8.1" text-anchor="end">20</text>
<line x1="301.0" y1="501.4" x2="303.4" y2="501.4" stroke="#000" stroke-width="1.1"/>
<text x="300.59999999999997" y="504.5" font-size="8.1" text-anchor="end">40</text>
<line x1="301.0" y1="474.15" x2="303.4" y2="474.15" stroke="#000" stroke-width="1.1"/>
<text x="300.59999999999997" y="477.25" font-size="8.1" text-anchor="end">60</text>
<text x="288.3" y="513.9" font-size="7.8" text-anchor="middle" transform="rotate(-90 288.3 513.9)">% specific lysis</text>
<rect x="307.20000000000005" y="554.6999999999999" width="5.5" height="1.2" fill="#000" stroke="#000" stroke-width="0.5"/>
<clipPath id="c6"><rect x="314.95" y="489.4375" width="5.2" height="66.46249999999999"/></clipPath>
<rect x="314.95" y="489.4375" width="5.2" height="66.46249999999999" fill="#fff"/>
<path d="M245.49 555.90L311.95 489.44M248.49 555.90L314.95 489.44M251.49 555.90L317.95 489.44M254.49 555.90L320.95 489.44M257.49 555.90L323.95 489.44M260.49 555.90L326.95 489.44M263.49 555.90L329.95 489.44M266.49 555.90L332.95 489.44M269.49 555.90L335.95 489.44M272.49 555.90L338.95 489.44M275.49 555.90L341.95 489.44M278.49 555.90L344.95 489.44M281.49 555.90L347.95 489.44M284.49 555.90L350.95 489.44M287.49 555.90L353.95 489.44M290.49 555.90L356.95 489.44M293.49 555.90L359.95 489.44M296.49 555.90L362.95 489.44M299.49 555.90L365.95 489.44M302.49 555.90L368.95 489.44M305.49 555.90L371.95 489.44M308.49 555.90L374.95 489.44M311.49 555.90L377.95 489.44M314.49 555.90L380.95 489.44M317.49 555.90L383.95 489.44M320.49 555.90L386.95 489.44M323.49 555.90L389.95 489.44M326.49 555.90L392.95 489.44" stroke="#000" stroke-width="1.0" fill="none" clip-path="url(#c6)"/>
<rect x="314.95" y="489.4375" width="5.2" height="66.46249999999999" fill="none" stroke="#000" stroke-width="0.9"/>
<rect x="322.1" y="554.6999999999999" width="5.8" height="1.2" fill="#666" stroke="#000" stroke-width="0.5"/>
<line x1="317.5" y1="555.9" x2="317.5" y2="558.5" stroke="#000" stroke-width="0.9"/>
<text x="319.9" y="563.9" font-size="8.1" text-anchor="end" transform="rotate(-45 319.9 563.9)">B-cells</text>
<rect x="335.70000000000005" y="554.6999999999999" width="5.5" height="1.2" fill="#000" stroke="#000" stroke-width="0.5"/>
<clipPath id="c7"><rect x="343.45" y="494.8875" width="5.2" height="61.0125"/></clipPath>
<rect x="343.45" y="494.8875" width="5.2" height="61.0125" fill="#fff"/>
<path d="M279.44 555.90L340.45 494.89M282.44 555.90L343.45 494.89M285.44 555.90L346.45 494.89M288.44 555.90L349.45 494.89M291.44 555.90L352.45 494.89M294.44 555.90L355.45 494.89M297.44 555.90L358.45 494.89M300.44 555.90L361.45 494.89M303.44 555.90L364.45 494.89M306.44 555.90L367.45 494.89M309.44 555.90L370.45 494.89M312.44 555.90L373.45 494.89M315.44 555.90L376.45 494.89M318.44 555.90L379.45 494.89M321.44 555.90L382.45 494.89M324.44 555.90L385.45 494.89M327.44 555.90L388.45 494.89M330.44 555.90L391.45 494.89M333.44 555.90L394.45 494.89M336.44 555.90L397.45 494.89M339.44 555.90L400.45 494.89M342.44 555.90L403.45 494.89M345.44 555.90L406.45 494.89M348.44 555.90L409.45 494.89M351.44 555.90L412.45 494.89M354.44 555.90L415.45 494.89M357.44 555.90L418.45 494.89" stroke="#000" stroke-width="1.0" fill="none" clip-path="url(#c7)"/>
<rect x="343.45" y="494.8875" width="5.2" height="61.0125" fill="none" stroke="#000" stroke-width="0.9"/>
<rect x="350.6" y="554.6999999999999" width="5.8" height="1.2" fill="#666" stroke="#000" stroke-width="0.5"/>
<line x1="346.0" y1="555.9" x2="346.0" y2="558.5" stroke="#000" stroke-width="0.9"/>
<text x="348.4" y="563.9" font-size="8.1" text-anchor="end" transform="rotate(-45 348.4 563.9)">BCR-crosslinking</text>
<rect x="364.20000000000005" y="554.6999999999999" width="5.5" height="1.2" fill="#000" stroke="#000" stroke-width="0.5"/>
<clipPath id="c8"><rect x="371.95" y="474.45" width="5.2" height="81.45"/></clipPath>
<rect x="371.95" y="474.45" width="5.2" height="81.45" fill="#fff"/>
<path d="M287.50 555.90L368.95 474.45M290.50 555.90L371.95 474.45M293.50 555.90L374.95 474.45M296.50 555.90L377.95 474.45M299.50 555.90L380.95 474.45M302.50 555.90L383.95 474.45M305.50 555.90L386.95 474.45M308.50 555.90L389.95 474.45M311.50 555.90L392.95 474.45M314.50 555.90L395.95 474.45M317.50 555.90L398.95 474.45M320.50 555.90L401.95 474.45M323.50 555.90L404.95 474.45M326.50 555.90L407.95 474.45M329.50 555.90L410.95 474.45M332.50 555.90L413.95 474.45M335.50 555.90L416.95 474.45M338.50 555.90L419.95 474.45M341.50 555.90L422.95 474.45M344.50 555.90L425.95 474.45M347.50 555.90L428.95 474.45M350.50 555.90L431.95 474.45M353.50 555.90L434.95 474.45M356.50 555.90L437.95 474.45M359.50 555.90L440.95 474.45M362.50 555.90L443.95 474.45M365.50 555.90L446.95 474.45M368.50 555.90L449.95 474.45M371.50 555.90L452.95 474.45M374.50 555.90L455.95 474.45M377.50 555.90L458.95 474.45M380.50 555.90L461.95 474.45M383.50 555.90L464.95 474.45" stroke="#000" stroke-width="1.0" fill="none" clip-path="url(#c8)"/>
<rect x="371.95" y="474.45" width="5.2" height="81.45" fill="none" stroke="#000" stroke-width="0.9"/>
<rect x="379.1" y="554.6999999999999" width="5.8" height="1.2" fill="#666" stroke="#000" stroke-width="0.5"/>
<line x1="374.5" y1="555.9" x2="374.5" y2="558.5" stroke="#000" stroke-width="0.9"/>
<text x="376.9" y="563.9" font-size="8.1" text-anchor="end" transform="rotate(-45 376.9 563.9)">CD40-activation</text>
<rect x="392.70000000000005" y="554.6999999999999" width="5.5" height="1.2" fill="#000" stroke="#000" stroke-width="0.5"/>
<clipPath id="c9"><rect x="400.45" y="489.4375" width="5.2" height="66.46249999999999"/></clipPath>
<rect x="400.45" y="489.4375" width="5.2" height="66.46249999999999" fill="#fff"/>
<path d="M330.99 555.90L397.45 489.44M333.99 555.90L400.45 489.44M336.99 555.90L403.45 489.44M339.99 555.90L406.45 489.44M342.99 555.90L409.45 489.44M345.99 555.90L412.45 489.44M348.99 555.90L415.45 489.44M351.99 555.90L418.45 489.44M354.99 555.90L421.45 489.44M357.99 555.90L424.45 489.44M360.99 555.90L427.45 489.44M363.99 555.90L430.45 489.44M366.99 555.90L433.45 489.44M369.99 555.90L436.45 489.44M372.99 555.90L439.45 489.44M375.99 555.90L442.45 489.44M378.99 555.90L445.45 489.44M381.99 555.90L448.45 489.44M384.99 555.90L451.45 489.44M387.99 555.90L454.45 489.44M390.99 555.90L457.45 489.44M393.99 555.90L460.45 489.44M396.99 555.90L463.45 489.44M399.99 555.90L466.45 489.44M402.99 555.90L469.45 489.44M405.99 555.90L472.45 489.44M408.99 555.90L475.45 489.44M411.99 555.90L478.45 489.44" stroke="#000" stroke-width="1.0" fill="none" clip-path="url(#c9)"/>
<rect x="400.45" y="489.4375" width="5.2" height="66.46249999999999" fill="none" stroke="#000" stroke-width="0.9"/>
<rect x="407.6" y="554.6999999999999" width="5.8" height="1.2" fill="#666" stroke="#000" stroke-width="0.5"/>
<line x1="403.0" y1="555.9" x2="403.0" y2="558.5" stroke="#000" stroke-width="0.9"/>
<text x="405.4" y="563.9" font-size="8.1" text-anchor="end" transform="rotate(-45 405.4 563.9)">PMA/ionomycin</text>
<rect x="421.20000000000005" y="554.6999999999999" width="5.5" height="1.2" fill="#000" stroke="#000" stroke-width="0.5"/>
<clipPath id="c10"><rect x="428.75" y="477.175" width="5.2" height="78.72499999999998"/></clipPath>
<rect x="428.75" y="477.175" width="5.2" height="78.72499999999998" fill="#fff"/>
<path d="M347.03 555.90L425.75 477.18M350.03 555.90L428.75 477.18M353.03 555.90L431.75 477.18M356.03 555.90L434.75 477.18M359.03 555.90L437.75 477.18M362.03 555.90L440.75 477.18M365.03 555.90L443.75 477.18M368.03 555.90L446.75 477.18M371.03 555.90L449.75 477.18M374.03 555.90L452.75 477.18M377.03 555.90L455.75 477.18M380.03 555.90L458.75 477.18M383.03 555.90L461.75 477.18M386.03 555.90L464.75 477.18M389.03 555.90L467.75 477.18M392.03 555.90L470.75 477.18M395.03 555.90L473.75 477.18M398.03 555.90L476.75 477.18M401.03 555.90L479.75 477.18M404.03 555.90L482.75 477.18M407.03 555.90L485.75 477.18M410.03 555.90L488.75 477.18M413.03 555.90L491.75 477.18M416.03 555.90L494.75 477.18M419.03 555.90L497.75 477.18M422.03 555.90L500.75 477.18M425.03 555.90L503.75 477.18M428.03 555.90L506.75 477.18M431.03 555.90L509.75 477.18M434.03 555.90L512.75 477.18M437.03 555.90L515.75 477.18M440.03 555.90L518.75 477.18" stroke="#000" stroke-width="1.0" fill="none" clip-path="url(#c10)"/>
<rect x="428.75" y="477.175" width="5.2" height="78.72499999999998" fill="none" stroke="#000" stroke-width="0.9"/>
<rect x="436.1" y="554.6999999999999" width="5.8" height="1.2" fill="#666" stroke="#000" stroke-width="0.5"/>
<line x1="431.5" y1="555.9" x2="431.5" y2="558.5" stroke="#000" stroke-width="0.9"/>
<text x="433.9" y="563.9" font-size="8.1" text-anchor="end" transform="rotate(-45 433.9 563.9)">EBV-LCL</text>
<rect x="439.8" y="485.6" width="9.6" height="6.9" fill="#000" stroke="#000" stroke-width="0.7"/>
<clipPath id="c11"><rect x="439.8" y="496.9" width="9.6" height="6.9"/></clipPath>
<rect x="439.8" y="496.9" width="9.6" height="6.9" fill="#fff"/>
<path d="M429.90 503.80L436.80 496.90M432.90 503.80L439.80 496.90M435.90 503.80L442.80 496.90M438.90 503.80L445.80 496.90M441.90 503.80L448.80 496.90M444.90 503.80L451.80 496.90M447.90 503.80L454.80 496.90M450.90 503.80L457.80 496.90M453.90 503.80L460.80 496.90M456.90 503.80L463.80 496.90" stroke="#000" stroke-width="1.0" fill="none" clip-path="url(#c11)"/>
<rect x="439.8" y="496.9" width="9.6" height="6.9" fill="none" stroke="#000" stroke-width="0.7"/>
<rect x="439.8" y="508.6" width="9.6" height="6.9" fill="#808080" stroke="#000" stroke-width="0.7"/>
<text x="454.3" y="491.9" font-size="7.75">ROR1-CAR clone</text>
<text x="454.3" y="503.2" font-size="7.75">CD20-CAR clone</text>
<text x="454.3" y="514.8" font-size="7.75">GFP-clone</text>
</svg>
</body></html>
